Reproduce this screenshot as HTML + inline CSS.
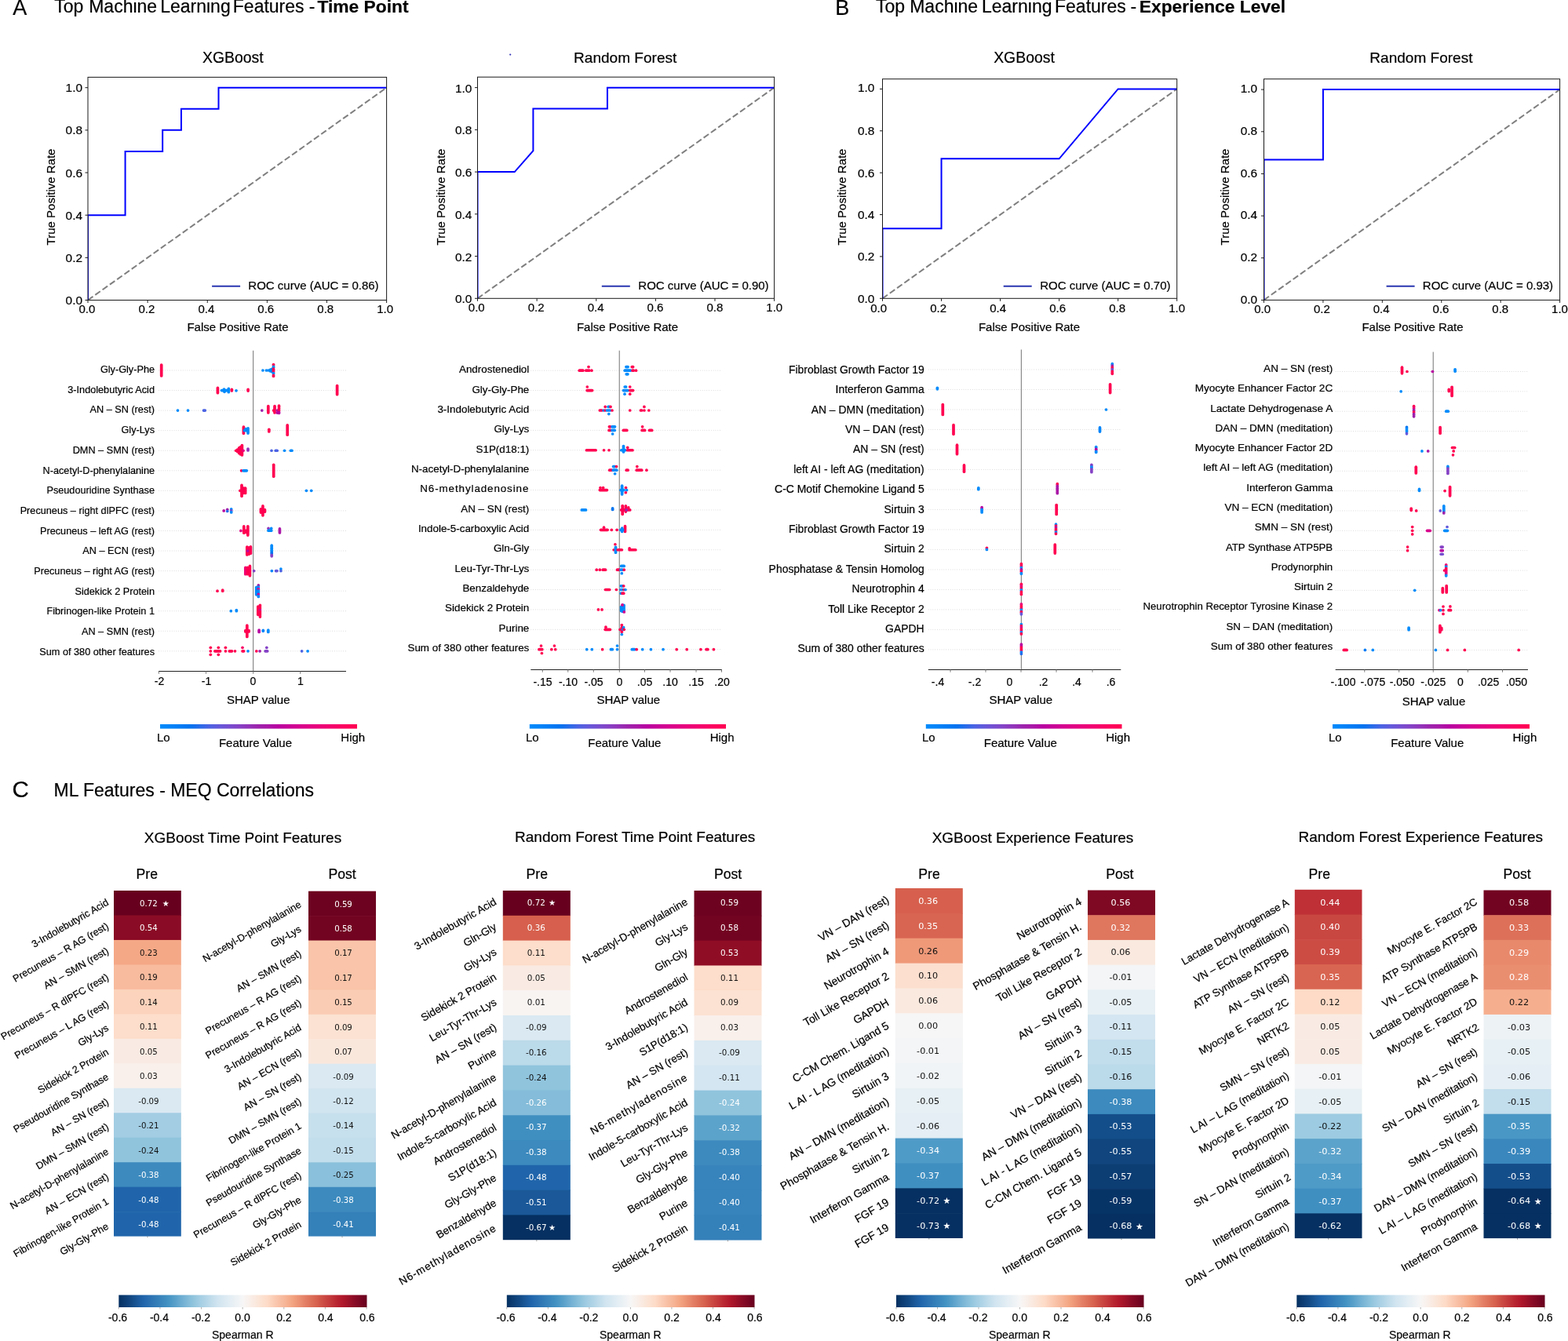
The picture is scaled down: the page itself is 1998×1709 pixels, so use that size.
<!DOCTYPE html>
<html lang="en">
<head>
<meta charset="utf-8">
<title>Top Machine Learning Features</title>
<style>
html,body{margin:0;padding:0;background:#fff;}
body{width:1998px;height:1709px;overflow:hidden;}
svg{display:block;font-family:"Liberation Sans",Arial,Helvetica,sans-serif;fill:#000;}
svg text{white-space:pre;}
svg .dj{font-family:"DejaVu Sans","Liberation Sans",sans-serif;}
</style>
</head>
<body>
<svg width="1998" height="1709" viewBox="0 0 1998 1709">
<text x="16.3" y="19.2" stroke="#000" stroke-width="0.2" font-size="27">A</text>
<text y="16.4" font-size="23" stroke="#000" stroke-width="0.2"><tspan x="69.3">Top</tspan> <tspan x="113.2">Machine</tspan> <tspan x="204.2">Learning</tspan> <tspan x="296.8">Features</tspan> <tspan x="393.8">-</tspan> <tspan x="404.4" font-size="22.8" font-weight="bold">Time Point</tspan></text>
<text x="1064.3" y="19.2" stroke="#000" stroke-width="0.2" font-size="27">B</text>
<text y="16.4" font-size="23" stroke="#000" stroke-width="0.2"><tspan x="1116">Top</tspan> <tspan x="1159.2">Machine</tspan> <tspan x="1251">Learning</tspan> <tspan x="1344">Features</tspan> <tspan x="1440.6">-</tspan> <tspan x="1451.8" font-size="22.8" font-weight="bold">Experience Level</tspan></text>
<text x="15.6" y="1015.6" stroke="#000" stroke-width="0.2" font-size="29.5">C</text>
<text y="1015" font-size="23" stroke="#000" stroke-width="0.2"><tspan x="68.5">ML Features - MEQ Correlations</tspan></text>
<text x="296.8" y="79.6" text-anchor="middle" stroke="#000" stroke-width="0.2" font-size="19.4">XGBoost</text>
<clipPath id="c1"><rect x="112" y="98.4" width="380.6" height="284.1"/></clipPath>
<line x1="112" y1="382.5" x2="492.6" y2="111.7" stroke="#7f7f7f" stroke-width="2" stroke-dasharray="7.95 3.45" clip-path="url(#c1)"/>
<path d="M112 382.5 L112 274.18 L159.57 274.18 L159.57 192.94 L207.15 192.94 L207.15 165.86 L230.94 165.86 L230.94 138.78 L278.51 138.78 L278.51 111.7 L492.6 111.7" fill="none" stroke="#0000ff" stroke-width="2" stroke-linejoin="miter" clip-path="url(#c1)"/>
<rect x="112" y="98.4" width="380.6" height="284.1" fill="none" stroke="#1a1a1a" stroke-width="1"/>
<line x1="112" y1="382.5" x2="112" y2="386" stroke="#1a1a1a" stroke-width="1"/>
<line x1="108.5" y1="382.5" x2="112" y2="382.5" stroke="#1a1a1a" stroke-width="1"/>
<text x="110.9" y="398.9" text-anchor="middle" stroke="#000" stroke-width="0.2" font-size="15">0.0</text>
<text x="105" y="388" text-anchor="end" stroke="#000" stroke-width="0.2" font-size="15.4">0.0</text>
<line x1="188.12" y1="382.5" x2="188.12" y2="386" stroke="#1a1a1a" stroke-width="1"/>
<line x1="108.5" y1="328.34" x2="112" y2="328.34" stroke="#1a1a1a" stroke-width="1"/>
<text x="186.86" y="398.9" text-anchor="middle" stroke="#000" stroke-width="0.2" font-size="15">0.2</text>
<text x="105" y="333.84" text-anchor="end" stroke="#000" stroke-width="0.2" font-size="15.4">0.2</text>
<line x1="264.24" y1="382.5" x2="264.24" y2="386" stroke="#1a1a1a" stroke-width="1"/>
<line x1="108.5" y1="274.18" x2="112" y2="274.18" stroke="#1a1a1a" stroke-width="1"/>
<text x="262.82" y="398.9" text-anchor="middle" stroke="#000" stroke-width="0.2" font-size="15">0.4</text>
<text x="105" y="279.68" text-anchor="end" stroke="#000" stroke-width="0.2" font-size="15.4">0.4</text>
<line x1="340.36" y1="382.5" x2="340.36" y2="386" stroke="#1a1a1a" stroke-width="1"/>
<line x1="108.5" y1="220.02" x2="112" y2="220.02" stroke="#1a1a1a" stroke-width="1"/>
<text x="338.78" y="398.9" text-anchor="middle" stroke="#000" stroke-width="0.2" font-size="15">0.6</text>
<text x="105" y="225.52" text-anchor="end" stroke="#000" stroke-width="0.2" font-size="15.4">0.6</text>
<line x1="416.48" y1="382.5" x2="416.48" y2="386" stroke="#1a1a1a" stroke-width="1"/>
<line x1="108.5" y1="165.86" x2="112" y2="165.86" stroke="#1a1a1a" stroke-width="1"/>
<text x="414.74" y="398.9" text-anchor="middle" stroke="#000" stroke-width="0.2" font-size="15">0.8</text>
<text x="105" y="171.36" text-anchor="end" stroke="#000" stroke-width="0.2" font-size="15.4">0.8</text>
<line x1="492.6" y1="382.5" x2="492.6" y2="386" stroke="#1a1a1a" stroke-width="1"/>
<line x1="108.5" y1="111.7" x2="112" y2="111.7" stroke="#1a1a1a" stroke-width="1"/>
<text x="490.7" y="398.9" text-anchor="middle" stroke="#000" stroke-width="0.2" font-size="15">1.0</text>
<text x="105" y="117.2" text-anchor="end" stroke="#000" stroke-width="0.2" font-size="15.4">1.0</text>
<text x="303" y="421.5" text-anchor="middle" stroke="#000" stroke-width="0.2" font-size="15">False Positive Rate</text>
<text text-anchor="middle" stroke="#000" stroke-width="0.2" transform="translate(69.5 251) rotate(-90)" font-size="15">True Positive Rate</text>
<line x1="270.1" y1="364.8" x2="306.1" y2="364.8" stroke="#2a36b0" stroke-width="2"/>
<text x="316.3" y="369" stroke="#000" stroke-width="0.2" font-size="15">ROC curve (AUC = 0.86)</text>
<text x="796.7" y="79.6" text-anchor="middle" stroke="#000" stroke-width="0.2" font-size="19.05">Random Forest</text>
<clipPath id="c2"><rect x="608.5" y="98.2" width="378.1" height="282.1"/></clipPath>
<line x1="608.5" y1="380.3" x2="986.6" y2="111.63" stroke="#7f7f7f" stroke-width="2" stroke-dasharray="7.95 3.45" clip-path="url(#c2)"/>
<path d="M608.5 380.3 L608.5 219.1 L655.76 219.1 L679.39 192.23 L679.39 138.5 L773.92 138.5 L773.92 111.63 L986.6 111.63" fill="none" stroke="#0000ff" stroke-width="2" stroke-linejoin="miter" clip-path="url(#c2)"/>
<rect x="608.5" y="98.2" width="378.1" height="282.1" fill="none" stroke="#1a1a1a" stroke-width="1"/>
<line x1="608.5" y1="380.3" x2="608.5" y2="383.8" stroke="#1a1a1a" stroke-width="1"/>
<line x1="605" y1="380.3" x2="608.5" y2="380.3" stroke="#1a1a1a" stroke-width="1"/>
<text x="607.3" y="396.9" text-anchor="middle" stroke="#000" stroke-width="0.2" font-size="15">0.0</text>
<text x="601.4" y="386.3" text-anchor="end" stroke="#000" stroke-width="0.2" font-size="15.4">0.0</text>
<line x1="684.12" y1="380.3" x2="684.12" y2="383.8" stroke="#1a1a1a" stroke-width="1"/>
<line x1="605" y1="326.57" x2="608.5" y2="326.57" stroke="#1a1a1a" stroke-width="1"/>
<text x="683.2" y="396.9" text-anchor="middle" stroke="#000" stroke-width="0.2" font-size="15">0.2</text>
<text x="601.4" y="332.57" text-anchor="end" stroke="#000" stroke-width="0.2" font-size="15.4">0.2</text>
<line x1="759.74" y1="380.3" x2="759.74" y2="383.8" stroke="#1a1a1a" stroke-width="1"/>
<line x1="605" y1="272.83" x2="608.5" y2="272.83" stroke="#1a1a1a" stroke-width="1"/>
<text x="759.1" y="396.9" text-anchor="middle" stroke="#000" stroke-width="0.2" font-size="15">0.4</text>
<text x="601.4" y="278.83" text-anchor="end" stroke="#000" stroke-width="0.2" font-size="15.4">0.4</text>
<line x1="835.36" y1="380.3" x2="835.36" y2="383.8" stroke="#1a1a1a" stroke-width="1"/>
<line x1="605" y1="219.1" x2="608.5" y2="219.1" stroke="#1a1a1a" stroke-width="1"/>
<text x="835" y="396.9" text-anchor="middle" stroke="#000" stroke-width="0.2" font-size="15">0.6</text>
<text x="601.4" y="225.1" text-anchor="end" stroke="#000" stroke-width="0.2" font-size="15.4">0.6</text>
<line x1="910.98" y1="380.3" x2="910.98" y2="383.8" stroke="#1a1a1a" stroke-width="1"/>
<line x1="605" y1="165.37" x2="608.5" y2="165.37" stroke="#1a1a1a" stroke-width="1"/>
<text x="910.9" y="396.9" text-anchor="middle" stroke="#000" stroke-width="0.2" font-size="15">0.8</text>
<text x="601.4" y="171.37" text-anchor="end" stroke="#000" stroke-width="0.2" font-size="15.4">0.8</text>
<line x1="986.6" y1="380.3" x2="986.6" y2="383.8" stroke="#1a1a1a" stroke-width="1"/>
<line x1="605" y1="111.63" x2="608.5" y2="111.63" stroke="#1a1a1a" stroke-width="1"/>
<text x="986.8" y="396.9" text-anchor="middle" stroke="#000" stroke-width="0.2" font-size="15">1.0</text>
<text x="601.4" y="117.63" text-anchor="end" stroke="#000" stroke-width="0.2" font-size="15.4">1.0</text>
<text x="799.5" y="421.5" text-anchor="middle" stroke="#000" stroke-width="0.2" font-size="15">False Positive Rate</text>
<text text-anchor="middle" stroke="#000" stroke-width="0.2" transform="translate(566.5 251) rotate(-90)" font-size="15">True Positive Rate</text>
<line x1="766.8" y1="364.8" x2="802.8" y2="364.8" stroke="#2a36b0" stroke-width="2"/>
<text x="813.3" y="369.3" stroke="#000" stroke-width="0.2" font-size="15">ROC curve (AUC = 0.90)</text>
<text x="1305" y="80.4" text-anchor="middle" stroke="#000" stroke-width="0.2" font-size="19.4">XGBoost</text>
<clipPath id="c3"><rect x="1124.5" y="100.7" width="375.2" height="279.6"/></clipPath>
<line x1="1124.5" y1="380.3" x2="1499.7" y2="113.4" stroke="#7f7f7f" stroke-width="2" stroke-dasharray="7.95 3.45" clip-path="url(#c3)"/>
<path d="M1124.5 380.3 L1124.5 291.33 L1199.54 291.33 L1199.54 202.37 L1349.62 202.37 L1424.66 113.4 L1499.7 113.4" fill="none" stroke="#0000ff" stroke-width="2" stroke-linejoin="miter" clip-path="url(#c3)"/>
<rect x="1124.5" y="100.7" width="375.2" height="279.6" fill="none" stroke="#1a1a1a" stroke-width="1"/>
<line x1="1124.5" y1="380.3" x2="1124.5" y2="383.8" stroke="#1a1a1a" stroke-width="1"/>
<line x1="1121" y1="380.3" x2="1124.5" y2="380.3" stroke="#1a1a1a" stroke-width="1"/>
<text x="1119.7" y="398" text-anchor="middle" stroke="#000" stroke-width="0.2" font-size="15">0.0</text>
<text x="1114.3" y="385.7" text-anchor="end" stroke="#000" stroke-width="0.2" font-size="15.4">0.0</text>
<line x1="1199.54" y1="380.3" x2="1199.54" y2="383.8" stroke="#1a1a1a" stroke-width="1"/>
<line x1="1121" y1="326.92" x2="1124.5" y2="326.92" stroke="#1a1a1a" stroke-width="1"/>
<text x="1195.68" y="398" text-anchor="middle" stroke="#000" stroke-width="0.2" font-size="15">0.2</text>
<text x="1114.3" y="332.32" text-anchor="end" stroke="#000" stroke-width="0.2" font-size="15.4">0.2</text>
<line x1="1274.58" y1="380.3" x2="1274.58" y2="383.8" stroke="#1a1a1a" stroke-width="1"/>
<line x1="1121" y1="273.54" x2="1124.5" y2="273.54" stroke="#1a1a1a" stroke-width="1"/>
<text x="1271.66" y="398" text-anchor="middle" stroke="#000" stroke-width="0.2" font-size="15">0.4</text>
<text x="1114.3" y="278.94" text-anchor="end" stroke="#000" stroke-width="0.2" font-size="15.4">0.4</text>
<line x1="1349.62" y1="380.3" x2="1349.62" y2="383.8" stroke="#1a1a1a" stroke-width="1"/>
<line x1="1121" y1="220.16" x2="1124.5" y2="220.16" stroke="#1a1a1a" stroke-width="1"/>
<text x="1347.64" y="398" text-anchor="middle" stroke="#000" stroke-width="0.2" font-size="15">0.6</text>
<text x="1114.3" y="225.56" text-anchor="end" stroke="#000" stroke-width="0.2" font-size="15.4">0.6</text>
<line x1="1424.66" y1="380.3" x2="1424.66" y2="383.8" stroke="#1a1a1a" stroke-width="1"/>
<line x1="1121" y1="166.78" x2="1124.5" y2="166.78" stroke="#1a1a1a" stroke-width="1"/>
<text x="1423.62" y="398" text-anchor="middle" stroke="#000" stroke-width="0.2" font-size="15">0.8</text>
<text x="1114.3" y="172.18" text-anchor="end" stroke="#000" stroke-width="0.2" font-size="15.4">0.8</text>
<line x1="1499.7" y1="380.3" x2="1499.7" y2="383.8" stroke="#1a1a1a" stroke-width="1"/>
<line x1="1121" y1="113.4" x2="1124.5" y2="113.4" stroke="#1a1a1a" stroke-width="1"/>
<text x="1499.6" y="398" text-anchor="middle" stroke="#000" stroke-width="0.2" font-size="15">1.0</text>
<text x="1114.3" y="117.3" text-anchor="end" stroke="#000" stroke-width="0.2" font-size="15.4">1.0</text>
<text x="1311.5" y="421.5" text-anchor="middle" stroke="#000" stroke-width="0.2" font-size="15">False Positive Rate</text>
<text text-anchor="middle" stroke="#000" stroke-width="0.2" transform="translate(1078 251) rotate(-90)" font-size="15">True Positive Rate</text>
<line x1="1278.7" y1="364.8" x2="1314.7" y2="364.8" stroke="#2a36b0" stroke-width="2"/>
<text x="1325.2" y="369.2" stroke="#000" stroke-width="0.2" font-size="15">ROC curve (AUC = 0.70)</text>
<text x="1810.9" y="80.4" text-anchor="middle" stroke="#000" stroke-width="0.2" font-size="19.05">Random Forest</text>
<clipPath id="c4"><rect x="1610.5" y="100.7" width="377.1" height="281.7"/></clipPath>
<line x1="1610.5" y1="382.4" x2="1987.6" y2="114.11" stroke="#7f7f7f" stroke-width="2" stroke-dasharray="7.95 3.45" clip-path="url(#c4)"/>
<path d="M1610.5 382.4 L1610.5 203.54 L1685.92 203.54 L1685.92 114.11 L1987.6 114.11" fill="none" stroke="#0000ff" stroke-width="2" stroke-linejoin="miter" clip-path="url(#c4)"/>
<rect x="1610.5" y="100.7" width="377.1" height="281.7" fill="none" stroke="#1a1a1a" stroke-width="1"/>
<line x1="1610.5" y1="382.4" x2="1610.5" y2="385.9" stroke="#1a1a1a" stroke-width="1"/>
<line x1="1607" y1="382.4" x2="1610.5" y2="382.4" stroke="#1a1a1a" stroke-width="1"/>
<text x="1608.7" y="398.6" text-anchor="middle" stroke="#000" stroke-width="0.2" font-size="15">0.0</text>
<text x="1602.2" y="386.7" text-anchor="end" stroke="#000" stroke-width="0.2" font-size="15.4">0.0</text>
<line x1="1685.92" y1="382.4" x2="1685.92" y2="385.9" stroke="#1a1a1a" stroke-width="1"/>
<line x1="1607" y1="328.74" x2="1610.5" y2="328.74" stroke="#1a1a1a" stroke-width="1"/>
<text x="1684.46" y="398.6" text-anchor="middle" stroke="#000" stroke-width="0.2" font-size="15">0.2</text>
<text x="1602.2" y="333.04" text-anchor="end" stroke="#000" stroke-width="0.2" font-size="15.4">0.2</text>
<line x1="1761.34" y1="382.4" x2="1761.34" y2="385.9" stroke="#1a1a1a" stroke-width="1"/>
<line x1="1607" y1="275.09" x2="1610.5" y2="275.09" stroke="#1a1a1a" stroke-width="1"/>
<text x="1760.22" y="398.6" text-anchor="middle" stroke="#000" stroke-width="0.2" font-size="15">0.4</text>
<text x="1602.2" y="279.39" text-anchor="end" stroke="#000" stroke-width="0.2" font-size="15.4">0.4</text>
<line x1="1836.76" y1="382.4" x2="1836.76" y2="385.9" stroke="#1a1a1a" stroke-width="1"/>
<line x1="1607" y1="221.43" x2="1610.5" y2="221.43" stroke="#1a1a1a" stroke-width="1"/>
<text x="1835.98" y="398.6" text-anchor="middle" stroke="#000" stroke-width="0.2" font-size="15">0.6</text>
<text x="1602.2" y="225.73" text-anchor="end" stroke="#000" stroke-width="0.2" font-size="15.4">0.6</text>
<line x1="1912.18" y1="382.4" x2="1912.18" y2="385.9" stroke="#1a1a1a" stroke-width="1"/>
<line x1="1607" y1="167.77" x2="1610.5" y2="167.77" stroke="#1a1a1a" stroke-width="1"/>
<text x="1911.74" y="398.6" text-anchor="middle" stroke="#000" stroke-width="0.2" font-size="15">0.8</text>
<text x="1602.2" y="172.07" text-anchor="end" stroke="#000" stroke-width="0.2" font-size="15.4">0.8</text>
<line x1="1987.6" y1="382.4" x2="1987.6" y2="385.9" stroke="#1a1a1a" stroke-width="1"/>
<line x1="1607" y1="114.11" x2="1610.5" y2="114.11" stroke="#1a1a1a" stroke-width="1"/>
<text x="1987.5" y="398.6" text-anchor="middle" stroke="#000" stroke-width="0.2" font-size="15">1.0</text>
<text x="1602.2" y="118.41" text-anchor="end" stroke="#000" stroke-width="0.2" font-size="15.4">1.0</text>
<text x="1800" y="421.5" text-anchor="middle" stroke="#000" stroke-width="0.2" font-size="15">False Positive Rate</text>
<text text-anchor="middle" stroke="#000" stroke-width="0.2" transform="translate(1566 251) rotate(-90)" font-size="15">True Positive Rate</text>
<line x1="1766.6" y1="364.8" x2="1802.6" y2="364.8" stroke="#2a36b0" stroke-width="2"/>
<text x="1812.8" y="369.3" stroke="#000" stroke-width="0.2" font-size="15">ROC curve (AUC = 0.93)</text>
<line x1="202" y1="472" x2="441" y2="472" stroke="#d9d9d9" stroke-width="1" stroke-dasharray="0.9 1.9"/>
<text x="197" y="475" text-anchor="end" stroke="#000" stroke-width="0.2" font-size="12.7">Gly-Gly-Phe</text>
<line x1="202" y1="497.56" x2="441" y2="497.56" stroke="#d9d9d9" stroke-width="1" stroke-dasharray="0.9 1.9"/>
<text x="197" y="500.7" text-anchor="end" stroke="#000" stroke-width="0.2" font-size="12.7">3-Indolebutyric Acid</text>
<line x1="202" y1="523.11" x2="441" y2="523.11" stroke="#d9d9d9" stroke-width="1" stroke-dasharray="0.9 1.9"/>
<text x="197" y="526.4" text-anchor="end" stroke="#000" stroke-width="0.2" font-size="12.7">AN – SN (rest)</text>
<line x1="202" y1="548.67" x2="441" y2="548.67" stroke="#d9d9d9" stroke-width="1" stroke-dasharray="0.9 1.9"/>
<text x="197" y="552.1" text-anchor="end" stroke="#000" stroke-width="0.2" font-size="12.7">Gly-Lys</text>
<line x1="202" y1="574.23" x2="441" y2="574.23" stroke="#d9d9d9" stroke-width="1" stroke-dasharray="0.9 1.9"/>
<text x="197" y="577.8" text-anchor="end" stroke="#000" stroke-width="0.2" font-size="12.7">DMN – SMN (rest)</text>
<line x1="202" y1="599.79" x2="441" y2="599.79" stroke="#d9d9d9" stroke-width="1" stroke-dasharray="0.9 1.9"/>
<text x="197" y="603.5" text-anchor="end" stroke="#000" stroke-width="0.2" font-size="12.7">N-acetyl-D-phenylalanine</text>
<line x1="202" y1="625.34" x2="441" y2="625.34" stroke="#d9d9d9" stroke-width="1" stroke-dasharray="0.9 1.9"/>
<text x="197" y="629.2" text-anchor="end" stroke="#000" stroke-width="0.2" font-size="12.7">Pseudouridine Synthase</text>
<line x1="202" y1="650.9" x2="441" y2="650.9" stroke="#d9d9d9" stroke-width="1" stroke-dasharray="0.9 1.9"/>
<text x="197" y="654.9" text-anchor="end" stroke="#000" stroke-width="0.2" font-size="12.7">Precuneus – right dlPFC (rest)</text>
<line x1="202" y1="676.46" x2="441" y2="676.46" stroke="#d9d9d9" stroke-width="1" stroke-dasharray="0.9 1.9"/>
<text x="197" y="680.6" text-anchor="end" stroke="#000" stroke-width="0.2" font-size="12.7">Precuneus – left AG (rest)</text>
<line x1="202" y1="702.01" x2="441" y2="702.01" stroke="#d9d9d9" stroke-width="1" stroke-dasharray="0.9 1.9"/>
<text x="197" y="706.3" text-anchor="end" stroke="#000" stroke-width="0.2" font-size="12.7">AN – ECN (rest)</text>
<line x1="202" y1="727.57" x2="441" y2="727.57" stroke="#d9d9d9" stroke-width="1" stroke-dasharray="0.9 1.9"/>
<text x="197" y="732" text-anchor="end" stroke="#000" stroke-width="0.2" font-size="12.7">Precuneus – right AG (rest)</text>
<line x1="202" y1="753.13" x2="441" y2="753.13" stroke="#d9d9d9" stroke-width="1" stroke-dasharray="0.9 1.9"/>
<text x="197" y="757.7" text-anchor="end" stroke="#000" stroke-width="0.2" font-size="12.7">Sidekick 2 Protein</text>
<line x1="202" y1="778.69" x2="441" y2="778.69" stroke="#d9d9d9" stroke-width="1" stroke-dasharray="0.9 1.9"/>
<text x="197" y="783.4" text-anchor="end" stroke="#000" stroke-width="0.2" font-size="12.7">Fibrinogen-like Protein 1</text>
<line x1="202" y1="804.24" x2="441" y2="804.24" stroke="#d9d9d9" stroke-width="1" stroke-dasharray="0.9 1.9"/>
<text x="197" y="809.1" text-anchor="end" stroke="#000" stroke-width="0.2" font-size="12.7">AN – SMN (rest)</text>
<line x1="202" y1="829.8" x2="441" y2="829.8" stroke="#d9d9d9" stroke-width="1" stroke-dasharray="0.9 1.9"/>
<text x="197" y="834.8" text-anchor="end" stroke="#000" stroke-width="0.2" font-size="12.7">Sum of 380 other features</text>
<line x1="322.6" y1="446.7" x2="322.6" y2="855.5" stroke="#8a8a8a" stroke-width="1.2"/>
<rect x="203.85" y="463.2" width="3.7" height="17.6" rx="1.85" fill="#ff0051"/>
<circle cx="334.9" cy="472" r="1.85" fill="#008bfb"/>
<circle cx="339.4" cy="472" r="1.85" fill="#008bfb"/>
<circle cx="342" cy="472" r="1.85" fill="#008bfb"/>
<rect x="342.75" y="469.2" width="3.7" height="5.6" rx="1.85" fill="#008bfb"/>
<rect x="344.75" y="468.4" width="3.7" height="7.2" rx="1.85" fill="#008bfb"/>
<rect x="346.65" y="462.64" width="3.7" height="4.82" rx="1.85" fill="#ff0051"/>
<rect x="346.65" y="465.42" width="3.7" height="4.82" rx="1.85" fill="#008bfb"/>
<rect x="346.65" y="468.2" width="3.7" height="4.82" rx="1.85" fill="#ff0051"/>
<rect x="346.65" y="470.98" width="3.7" height="4.82" rx="1.85" fill="#ff0051"/>
<rect x="346.65" y="473.76" width="3.7" height="4.82" rx="1.85" fill="#008bfb"/>
<rect x="346.65" y="476.54" width="3.7" height="4.82" rx="1.85" fill="#ff0051"/>
<rect x="275.55" y="492.56" width="3.7" height="10" rx="1.85" fill="#ff0051"/>
<rect x="280.65" y="495.71" width="10.7" height="3.7" rx="1.85" fill="#008bfb"/>
<circle cx="285.5" cy="496.06" r="1.85" fill="#008bfb"/>
<circle cx="286" cy="499.36" r="1.85" fill="#008bfb"/>
<rect x="289.45" y="493.56" width="3.7" height="8" rx="1.85" fill="#008bfb"/>
<rect x="293.45" y="494.46" width="3.7" height="5.4" rx="1.85" fill="#ff0051"/>
<circle cx="301" cy="497.86" r="1.85" fill="#008bfb"/>
<rect x="314.25" y="494.56" width="3.7" height="5.4" rx="1.85" fill="#ff0051"/>
<rect x="427.75" y="489.76" width="3.7" height="14.8" rx="1.85" fill="#ff0051"/>
<circle cx="226.5" cy="523.11" r="1.85" fill="#008bfb"/>
<circle cx="239.5" cy="523.11" r="1.85" fill="#008bfb"/>
<rect x="257.65" y="521.26" width="5.5" height="3.7" rx="1.85" fill="#4c63e3"/>
<circle cx="333.8" cy="523.11" r="1.85" fill="#9d22ac"/>
<rect x="339.95" y="515.81" width="3.7" height="12" rx="1.85" fill="#ff0051"/>
<circle cx="348.6" cy="523.11" r="1.85" fill="#ff0051"/>
<rect x="348.15" y="515.81" width="3.7" height="12" rx="1.85" fill="#ff0051"/>
<circle cx="353.3" cy="523.11" r="1.85" fill="#aa17a7"/>
<circle cx="353.3" cy="526.11" r="1.85" fill="#b900a0"/>
<rect x="353.65" y="515.26" width="3.7" height="4.8" rx="1.85" fill="#ff0051"/>
<rect x="353.65" y="518.03" width="3.7" height="4.8" rx="1.85" fill="#ff0051"/>
<rect x="353.65" y="520.8" width="3.7" height="4.8" rx="1.85" fill="#ff0051"/>
<rect x="353.65" y="523.56" width="3.7" height="4.8" rx="1.85" fill="#b900a0"/>
<rect x="308.55" y="542.17" width="3.7" height="12" rx="1.85" fill="#ff0051"/>
<rect x="314.15" y="543.97" width="3.7" height="10" rx="1.85" fill="#008bfb"/>
<rect x="309.65" y="546.82" width="7.2" height="3.7" rx="1.85" fill="#008bfb"/>
<circle cx="313.2" cy="546.67" r="1.85" fill="#008bfb"/>
<rect x="340.95" y="545.47" width="3.7" height="6.4" rx="1.85" fill="#ff0051"/>
<rect x="364.35" y="540.07" width="3.7" height="16" rx="1.85" fill="#ff0051"/>
<circle cx="300.6" cy="574.23" r="1.85" fill="#ff0051"/>
<rect x="300.75" y="571.23" width="3.7" height="6" rx="1.85" fill="#ff0051"/>
<rect x="302.75" y="569.03" width="3.7" height="10.4" rx="1.85" fill="#ff0051"/>
<rect x="304.75" y="567.73" width="3.7" height="13" rx="1.85" fill="#ff0051"/>
<rect x="306.55" y="565.73" width="3.7" height="16" rx="1.85" fill="#ff0051"/>
<circle cx="310" cy="574.23" r="1.85" fill="#e9007c"/>
<rect x="314.15" y="570.23" width="3.7" height="5.6" rx="1.85" fill="#9233b9"/>
<circle cx="346" cy="574.23" r="1.85" fill="#4c63e3"/>
<rect x="349.35" y="572.38" width="5.7" height="3.7" rx="1.85" fill="#4c63e3"/>
<circle cx="362.5" cy="574.23" r="1.85" fill="#008bfb"/>
<rect x="368.55" y="572.38" width="5.3" height="3.7" rx="1.85" fill="#008bfb"/>
<circle cx="307.6" cy="599.79" r="1.85" fill="#ff0051"/>
<rect x="308.15" y="597.94" width="8" height="3.7" rx="1.85" fill="#008bfb"/>
<rect x="346.85" y="590.49" width="3.7" height="18.6" rx="1.85" fill="#ff0051"/>
<circle cx="305.9" cy="625.34" r="1.85" fill="#ff0051"/>
<rect x="306.15" y="616.54" width="3.7" height="17.6" rx="1.85" fill="#ff0051"/>
<rect x="308.55" y="620.34" width="3.7" height="10" rx="1.85" fill="#ff0051"/>
<rect x="310.75" y="620.34" width="3.7" height="10" rx="1.85" fill="#ff0051"/>
<circle cx="390.4" cy="625.34" r="1.85" fill="#008bfb"/>
<circle cx="396.7" cy="625.34" r="1.85" fill="#008bfb"/>
<circle cx="285.2" cy="650.9" r="1.85" fill="#b900a0"/>
<circle cx="289.7" cy="649.3" r="1.85" fill="#9d22ac"/>
<circle cx="289.7" cy="651.5" r="1.85" fill="#266cea"/>
<rect x="292.85" y="646.96" width="3.7" height="3.98" rx="1.85" fill="#008bfb"/>
<rect x="292.85" y="648.91" width="3.7" height="3.98" rx="1.85" fill="#8542c5"/>
<rect x="292.85" y="650.86" width="3.7" height="3.98" rx="1.85" fill="#008bfb"/>
<rect x="330.55" y="646.9" width="3.7" height="8" rx="1.85" fill="#ff0051"/>
<rect x="333.05" y="643.1" width="3.7" height="15.6" rx="1.85" fill="#ff0051"/>
<rect x="335.55" y="647.7" width="3.7" height="6.4" rx="1.85" fill="#ff0051"/>
<circle cx="306.9" cy="676.46" r="1.85" fill="#df0086"/>
<rect x="308.95" y="669.06" width="3.7" height="12" rx="1.85" fill="#ff0051"/>
<rect x="309.15" y="674.61" width="8.2" height="3.7" rx="1.85" fill="#ff0051"/>
<circle cx="313.3" cy="678.46" r="1.85" fill="#ff0051"/>
<rect x="313.95" y="668.96" width="3.7" height="15" rx="1.85" fill="#ff0051"/>
<circle cx="342" cy="673.46" r="1.85" fill="#9233b9"/>
<circle cx="345.7" cy="673.46" r="1.85" fill="#008bfb"/>
<rect x="340.15" y="674.31" width="7.4" height="3.7" rx="1.85" fill="#008bfb"/>
<rect x="354.55" y="672.06" width="3.7" height="8.8" rx="1.85" fill="#aa17a7"/>
<rect x="312.95" y="695.21" width="3.7" height="13.6" rx="1.85" fill="#ff0051"/>
<rect x="315.35" y="696.01" width="3.7" height="12" rx="1.85" fill="#ff0051"/>
<rect x="317.55" y="695.01" width="3.7" height="12" rx="1.85" fill="#ff0051"/>
<circle cx="315.5" cy="702.01" r="1.85" fill="#b900a0"/>
<rect x="344.35" y="693.31" width="3.7" height="5.11" rx="1.85" fill="#008bfb"/>
<rect x="344.35" y="696.38" width="3.7" height="5.11" rx="1.85" fill="#008bfb"/>
<rect x="344.35" y="699.46" width="3.7" height="5.11" rx="1.85" fill="#008bfb"/>
<rect x="344.35" y="702.53" width="3.7" height="5.11" rx="1.85" fill="#0074f0"/>
<rect x="344.35" y="705.61" width="3.7" height="5.11" rx="1.85" fill="#8542c5"/>
<rect x="310.95" y="721.57" width="3.7" height="12" rx="1.85" fill="#f10072"/>
<rect x="313.55" y="721.57" width="3.7" height="12" rx="1.85" fill="#ff0051"/>
<rect x="316.55" y="719.57" width="3.7" height="16" rx="1.85" fill="#ff0051"/>
<circle cx="323.6" cy="727.57" r="1.85" fill="#8542c5"/>
<circle cx="346.3" cy="727.57" r="1.85" fill="#0084f9"/>
<rect x="349.75" y="725.72" width="5.1" height="3.7" rx="1.85" fill="#6459da"/>
<circle cx="357.9" cy="725.07" r="1.85" fill="#008bfb"/>
<circle cx="357.9" cy="727.57" r="1.85" fill="#4c63e3"/>
<circle cx="277" cy="753.13" r="1.85" fill="#ff0051"/>
<rect x="281.85" y="750.23" width="3.7" height="4.8" rx="1.85" fill="#ff0051"/>
<rect x="324.85" y="746.63" width="3.7" height="13" rx="1.85" fill="#008bfb"/>
<rect x="327.45" y="744" width="3.7" height="4.35" rx="1.85" fill="#9d22ac"/>
<rect x="327.45" y="746.32" width="3.7" height="4.35" rx="1.85" fill="#008bfb"/>
<rect x="327.45" y="748.64" width="3.7" height="4.35" rx="1.85" fill="#d40090"/>
<rect x="327.45" y="750.95" width="3.7" height="4.35" rx="1.85" fill="#008bfb"/>
<rect x="327.45" y="753.27" width="3.7" height="4.35" rx="1.85" fill="#008bfb"/>
<rect x="327.45" y="755.59" width="3.7" height="4.35" rx="1.85" fill="#d40090"/>
<rect x="327.45" y="757.9" width="3.7" height="4.35" rx="1.85" fill="#008bfb"/>
<circle cx="294.3" cy="778.69" r="1.85" fill="#008bfb"/>
<rect x="299.45" y="775.69" width="3.7" height="4.8" rx="1.85" fill="#008bfb"/>
<rect x="326.95" y="771.19" width="3.7" height="14" rx="1.85" fill="#ff0051"/>
<rect x="329.55" y="769.5" width="3.7" height="4.08" rx="1.85" fill="#ff0051"/>
<rect x="329.55" y="771.54" width="3.7" height="4.08" rx="1.85" fill="#ff0051"/>
<rect x="329.55" y="773.58" width="3.7" height="4.08" rx="1.85" fill="#ff0051"/>
<rect x="329.55" y="775.63" width="3.7" height="4.08" rx="1.85" fill="#d40090"/>
<rect x="329.55" y="777.67" width="3.7" height="4.08" rx="1.85" fill="#ff0051"/>
<rect x="329.55" y="779.71" width="3.7" height="4.08" rx="1.85" fill="#ff0051"/>
<rect x="329.55" y="781.75" width="3.7" height="4.08" rx="1.85" fill="#ff0051"/>
<rect x="329.55" y="783.8" width="3.7" height="4.08" rx="1.85" fill="#ff0051"/>
<rect x="312.95" y="795.24" width="3.7" height="18" rx="1.85" fill="#ff0051"/>
<rect x="310.95" y="801.64" width="3.7" height="5.2" rx="1.85" fill="#ff0051"/>
<rect x="315.25" y="801.64" width="3.7" height="5.2" rx="1.85" fill="#ff0051"/>
<rect x="328.25" y="801.24" width="3.7" height="6" rx="1.85" fill="#b900a0"/>
<rect x="333.45" y="801.44" width="3.7" height="4.6" rx="1.85" fill="#0084f9"/>
<rect x="339.95" y="801.24" width="3.7" height="6" rx="1.85" fill="#008bfb"/>
<circle cx="268.3" cy="825.3" r="1.85" fill="#ff0051"/>
<circle cx="268.3" cy="829.8" r="1.85" fill="#ff0051"/>
<circle cx="268.3" cy="834.3" r="1.85" fill="#ff0051"/>
<rect x="271.95" y="827.95" width="10.5" height="3.7" rx="1.85" fill="#ff0051"/>
<circle cx="278.3" cy="825.3" r="1.85" fill="#ff0051"/>
<circle cx="278.3" cy="834.3" r="1.85" fill="#ff0051"/>
<circle cx="287.4" cy="825.3" r="1.85" fill="#ff0051"/>
<circle cx="287.4" cy="829.8" r="1.85" fill="#ff0051"/>
<rect x="290.45" y="827.95" width="6.9" height="3.7" rx="1.85" fill="#ff0051"/>
<circle cx="299.5" cy="829.8" r="1.85" fill="#ff0051"/>
<circle cx="309" cy="825.3" r="1.85" fill="#f80067"/>
<rect x="307.15" y="827.95" width="5.3" height="3.7" rx="1.85" fill="#ff0051"/>
<circle cx="316" cy="829.8" r="1.85" fill="#008bfb"/>
<circle cx="326.8" cy="829.8" r="1.85" fill="#ff0051"/>
<circle cx="331.1" cy="829.8" r="1.85" fill="#9d22ac"/>
<circle cx="339.8" cy="825.3" r="1.85" fill="#8542c5"/>
<rect x="336.25" y="827.95" width="6.3" height="3.7" rx="1.85" fill="#8542c5"/>
<circle cx="384.6" cy="829.8" r="1.85" fill="#4c63e3"/>
<circle cx="392.1" cy="829.8" r="1.85" fill="#008bfb"/>
<line x1="202" y1="855.5" x2="441" y2="855.5" stroke="#222" stroke-width="1"/>
<line x1="202.4" y1="855.5" x2="202.4" y2="858.7" stroke="#777" stroke-width="1"/>
<line x1="262.5" y1="855.5" x2="262.5" y2="858.7" stroke="#777" stroke-width="1"/>
<line x1="322.6" y1="855.5" x2="322.6" y2="858.7" stroke="#777" stroke-width="1"/>
<line x1="382.6" y1="855.5" x2="382.6" y2="858.7" stroke="#777" stroke-width="1"/>
<text x="203" y="872.7" text-anchor="middle" stroke="#000" stroke-width="0.2" font-size="14">-2</text>
<text x="263" y="872.7" text-anchor="middle" stroke="#000" stroke-width="0.2" font-size="14">-1</text>
<text x="322.5" y="872.7" text-anchor="middle" stroke="#000" stroke-width="0.2" font-size="14">0</text>
<text x="383" y="872.7" text-anchor="middle" stroke="#000" stroke-width="0.2" font-size="14">1</text>
<text x="329.2" y="897" text-anchor="middle" stroke="#000" stroke-width="0.2" font-size="15">SHAP value</text>
<linearGradient id="gA1" x1="0" x2="1" y1="0" y2="0"><stop offset="0%" stop-color="#008bfb"/><stop offset="5%" stop-color="#0084f9"/><stop offset="10%" stop-color="#007cf5"/><stop offset="15%" stop-color="#0074f0"/><stop offset="20%" stop-color="#266cea"/><stop offset="25%" stop-color="#4c63e3"/><stop offset="30%" stop-color="#6459da"/><stop offset="35%" stop-color="#764ed0"/><stop offset="40%" stop-color="#8542c5"/><stop offset="45%" stop-color="#9233b9"/><stop offset="50%" stop-color="#9d22ac"/><stop offset="55%" stop-color="#aa17a7"/><stop offset="60%" stop-color="#b900a0"/><stop offset="65%" stop-color="#c70098"/><stop offset="70%" stop-color="#d40090"/><stop offset="75%" stop-color="#df0086"/><stop offset="80%" stop-color="#e9007c"/><stop offset="85%" stop-color="#f10072"/><stop offset="90%" stop-color="#f80067"/><stop offset="95%" stop-color="#fe005c"/><stop offset="100%" stop-color="#ff0051"/></linearGradient>
<rect x="204" y="923" width="251" height="5.6" fill="url(#gA1)"/>
<text x="199.9" y="945" stroke="#000" stroke-width="0.2" font-size="15">Lo</text>
<text x="465.2" y="945" text-anchor="end" stroke="#000" stroke-width="0.2" font-size="15">High</text>
<text x="325.5" y="952" text-anchor="middle" stroke="#000" stroke-width="0.2" font-size="15">Feature Value</text>
<line x1="676.3" y1="472.2" x2="920" y2="472.2" stroke="#d9d9d9" stroke-width="1" stroke-dasharray="0.9 1.9"/>
<text x="674.3" y="475.2" text-anchor="end" stroke="#000" stroke-width="0.2" font-size="13.4">Androstenediol</text>
<line x1="676.3" y1="497.59" x2="920" y2="497.59" stroke="#d9d9d9" stroke-width="1" stroke-dasharray="0.9 1.9"/>
<text x="674.3" y="500.54" text-anchor="end" stroke="#000" stroke-width="0.2" font-size="13.4">Gly-Gly-Phe</text>
<line x1="676.3" y1="522.99" x2="920" y2="522.99" stroke="#d9d9d9" stroke-width="1" stroke-dasharray="0.9 1.9"/>
<text x="674.3" y="525.87" text-anchor="end" stroke="#000" stroke-width="0.2" font-size="13.4">3-Indolebutyric Acid</text>
<line x1="676.3" y1="548.38" x2="920" y2="548.38" stroke="#d9d9d9" stroke-width="1" stroke-dasharray="0.9 1.9"/>
<text x="674.3" y="551.21" text-anchor="end" stroke="#000" stroke-width="0.2" font-size="13.4">Gly-Lys</text>
<line x1="676.3" y1="573.77" x2="920" y2="573.77" stroke="#d9d9d9" stroke-width="1" stroke-dasharray="0.9 1.9"/>
<text x="674.3" y="576.54" text-anchor="end" stroke="#000" stroke-width="0.2" font-size="13.4">S1P(d18:1)</text>
<line x1="676.3" y1="599.16" x2="920" y2="599.16" stroke="#d9d9d9" stroke-width="1" stroke-dasharray="0.9 1.9"/>
<text x="674.3" y="601.88" text-anchor="end" stroke="#000" stroke-width="0.2" font-size="13.4">N-acetyl-D-phenylalanine</text>
<line x1="676.3" y1="624.56" x2="920" y2="624.56" stroke="#d9d9d9" stroke-width="1" stroke-dasharray="0.9 1.9"/>
<text x="674.3" y="627.21" text-anchor="end" stroke="#000" stroke-width="0.2" font-size="13.4" letter-spacing="0.9">N6-methyladenosine</text>
<line x1="676.3" y1="649.95" x2="920" y2="649.95" stroke="#d9d9d9" stroke-width="1" stroke-dasharray="0.9 1.9"/>
<text x="674.3" y="652.55" text-anchor="end" stroke="#000" stroke-width="0.2" font-size="13.4">AN – SN (rest)</text>
<line x1="676.3" y1="675.34" x2="920" y2="675.34" stroke="#d9d9d9" stroke-width="1" stroke-dasharray="0.9 1.9"/>
<text x="674.3" y="677.89" text-anchor="end" stroke="#000" stroke-width="0.2" font-size="13.4">Indole-5-carboxylic Acid</text>
<line x1="676.3" y1="700.74" x2="920" y2="700.74" stroke="#d9d9d9" stroke-width="1" stroke-dasharray="0.9 1.9"/>
<text x="674.3" y="703.22" text-anchor="end" stroke="#000" stroke-width="0.2" font-size="13.4">Gln-Gly</text>
<line x1="676.3" y1="726.13" x2="920" y2="726.13" stroke="#d9d9d9" stroke-width="1" stroke-dasharray="0.9 1.9"/>
<text x="674.3" y="728.56" text-anchor="end" stroke="#000" stroke-width="0.2" font-size="13.4">Leu-Tyr-Thr-Lys</text>
<line x1="676.3" y1="751.52" x2="920" y2="751.52" stroke="#d9d9d9" stroke-width="1" stroke-dasharray="0.9 1.9"/>
<text x="674.3" y="753.89" text-anchor="end" stroke="#000" stroke-width="0.2" font-size="13.4">Benzaldehyde</text>
<line x1="676.3" y1="776.91" x2="920" y2="776.91" stroke="#d9d9d9" stroke-width="1" stroke-dasharray="0.9 1.9"/>
<text x="674.3" y="779.23" text-anchor="end" stroke="#000" stroke-width="0.2" font-size="13.4">Sidekick 2 Protein</text>
<line x1="676.3" y1="802.31" x2="920" y2="802.31" stroke="#d9d9d9" stroke-width="1" stroke-dasharray="0.9 1.9"/>
<text x="674.3" y="804.56" text-anchor="end" stroke="#000" stroke-width="0.2" font-size="13.4">Purine</text>
<line x1="676.3" y1="827.7" x2="920" y2="827.7" stroke="#d9d9d9" stroke-width="1" stroke-dasharray="0.9 1.9"/>
<text x="674.3" y="829.9" text-anchor="end" stroke="#000" stroke-width="0.2" font-size="13.4">Sum of 380 other features</text>
<line x1="789.25" y1="446.7" x2="789.25" y2="853.5" stroke="#8a8a8a" stroke-width="1.2"/>
<rect x="736.45" y="470.35" width="8.3" height="3.7" rx="1.85" fill="#ff0051"/>
<circle cx="746.8" cy="472.2" r="1.85" fill="#ff0051"/>
<circle cx="748.7" cy="472.2" r="1.85" fill="#ff0051"/>
<circle cx="750.7" cy="472.2" r="1.85" fill="#ff0051"/>
<circle cx="753.9" cy="472.2" r="1.85" fill="#ff0051"/>
<circle cx="750" cy="467.6" r="1.85" fill="#ff0051"/>
<rect x="794.35" y="470.35" width="10.9" height="3.7" rx="1.85" fill="#008bfb"/>
<rect x="804.15" y="470.35" width="5" height="3.7" rx="1.85" fill="#ff0051"/>
<circle cx="810.5" cy="472.2" r="1.85" fill="#ff0051"/>
<rect x="796.05" y="465.75" width="5.9" height="3.7" rx="1.85" fill="#008bfb"/>
<rect x="803.45" y="465.75" width="5" height="3.7" rx="1.85" fill="#ff0051"/>
<rect x="796.35" y="474.95" width="5.4" height="3.7" rx="1.85" fill="#008bfb"/>
<circle cx="748.3" cy="492.99" r="1.85" fill="#ff0051"/>
<rect x="746.25" y="495.74" width="10.2" height="3.7" rx="1.85" fill="#ff0051"/>
<rect x="792.65" y="495.74" width="9.3" height="3.7" rx="1.85" fill="#008bfb"/>
<rect x="800.85" y="495.74" width="7.6" height="3.7" rx="1.85" fill="#ff0051"/>
<rect x="794.35" y="491.14" width="5.1" height="3.7" rx="1.85" fill="#008bfb"/>
<circle cx="802.7" cy="492.99" r="1.85" fill="#ff0051"/>
<circle cx="796" cy="502.19" r="1.85" fill="#008bfb"/>
<circle cx="802.7" cy="502.19" r="1.85" fill="#ff0051"/>
<rect x="762.45" y="521.14" width="6.3" height="3.7" rx="1.85" fill="#ff0051"/>
<circle cx="769.2" cy="522.99" r="1.85" fill="#008bfb"/>
<circle cx="771.2" cy="522.99" r="1.85" fill="#ff0051"/>
<rect x="771.55" y="521.14" width="7.7" height="3.7" rx="1.85" fill="#008bfb"/>
<circle cx="780" cy="522.99" r="1.85" fill="#ff0051"/>
<circle cx="771.2" cy="518.39" r="1.85" fill="#ff0051"/>
<rect x="773.25" y="516.54" width="5" height="3.7" rx="1.85" fill="#008bfb"/>
<circle cx="778" cy="518.39" r="1.85" fill="#ff0051"/>
<circle cx="775.8" cy="527.59" r="1.85" fill="#008bfb"/>
<circle cx="802.7" cy="522.99" r="1.85" fill="#ff0051"/>
<rect x="814.55" y="521.14" width="5" height="3.7" rx="1.85" fill="#ff0051"/>
<circle cx="820.9" cy="522.99" r="1.85" fill="#ff0051"/>
<circle cx="826.8" cy="522.99" r="1.85" fill="#ff0051"/>
<circle cx="820.9" cy="518.39" r="1.85" fill="#ff0051"/>
<rect x="774.15" y="546.53" width="5.7" height="3.7" rx="1.85" fill="#ff0051"/>
<rect x="778.05" y="546.53" width="7" height="3.7" rx="1.85" fill="#008bfb"/>
<rect x="774.55" y="541.93" width="5" height="3.7" rx="1.85" fill="#ff0051"/>
<rect x="778.15" y="541.93" width="7.2" height="3.7" rx="1.85" fill="#008bfb"/>
<circle cx="780.6" cy="552.98" r="1.85" fill="#008bfb"/>
<rect x="792.45" y="546.53" width="8.2" height="3.7" rx="1.85" fill="#ff0051"/>
<rect x="816.25" y="546.53" width="7.2" height="3.7" rx="1.85" fill="#ff0051"/>
<rect x="825.65" y="546.53" width="6.9" height="3.7" rx="1.85" fill="#ff0051"/>
<circle cx="818.6" cy="543.78" r="1.85" fill="#ff0051"/>
<rect x="745.55" y="571.92" width="15.4" height="3.7" rx="1.85" fill="#ff0051"/>
<circle cx="769.5" cy="573.77" r="1.85" fill="#ff0051"/>
<circle cx="776" cy="573.77" r="1.85" fill="#ff0051"/>
<rect x="792.65" y="566.77" width="3.7" height="11" rx="1.85" fill="#008bfb"/>
<rect x="789.85" y="571.92" width="8.9" height="3.7" rx="1.85" fill="#008bfb"/>
<circle cx="799.7" cy="570.37" r="1.85" fill="#ff0051"/>
<rect x="797.65" y="571.92" width="10.2" height="3.7" rx="1.85" fill="#ff0051"/>
<rect x="774.85" y="597.31" width="6.3" height="3.7" rx="1.85" fill="#ff0051"/>
<rect x="779.45" y="597.31" width="8.2" height="3.7" rx="1.85" fill="#008bfb"/>
<rect x="779.75" y="592.71" width="5.6" height="3.7" rx="1.85" fill="#008bfb"/>
<circle cx="785.5" cy="594.56" r="1.85" fill="#ff0051"/>
<circle cx="783.6" cy="603.76" r="1.85" fill="#008bfb"/>
<rect x="796.35" y="597.31" width="5.6" height="3.7" rx="1.85" fill="#ff0051"/>
<rect x="809.35" y="597.31" width="10.2" height="3.7" rx="1.85" fill="#ff0051"/>
<circle cx="823.9" cy="599.16" r="1.85" fill="#ff0051"/>
<circle cx="811.8" cy="594.56" r="1.85" fill="#ff0051"/>
<rect x="762.45" y="622.71" width="12.8" height="3.7" rx="1.85" fill="#ff0051"/>
<circle cx="765" cy="621.56" r="1.85" fill="#ff0051"/>
<circle cx="768.6" cy="621.56" r="1.85" fill="#ff0051"/>
<rect x="790.75" y="617.36" width="3.7" height="14.4" rx="1.85" fill="#008bfb"/>
<rect x="789.15" y="622.71" width="7.7" height="3.7" rx="1.85" fill="#008bfb"/>
<circle cx="797.5" cy="621.56" r="1.85" fill="#ff0051"/>
<circle cx="798.6" cy="624.56" r="1.85" fill="#008bfb"/>
<circle cx="797.3" cy="627.76" r="1.85" fill="#ff0051"/>
<rect x="739.45" y="648.1" width="8.9" height="3.7" rx="1.85" fill="#008bfb"/>
<rect x="778.75" y="645.95" width="3.7" height="5.4" rx="1.85" fill="#0074f0"/>
<rect x="791.35" y="642.75" width="3.7" height="14.4" rx="1.85" fill="#ff0051"/>
<rect x="795.45" y="642.95" width="3.7" height="11" rx="1.85" fill="#ff0051"/>
<rect x="789.85" y="648.1" width="14.7" height="3.7" rx="1.85" fill="#ff0051"/>
<circle cx="800.8" cy="646.95" r="1.85" fill="#ff0051"/>
<circle cx="798.2" cy="649.95" r="1.85" fill="#9d22ac"/>
<rect x="763.75" y="673.49" width="12.2" height="3.7" rx="1.85" fill="#ff0051"/>
<circle cx="769.5" cy="672.14" r="1.85" fill="#ff0051"/>
<circle cx="779.3" cy="675.34" r="1.85" fill="#ff0051"/>
<circle cx="786.1" cy="675.34" r="1.85" fill="#ff0051"/>
<rect x="794.65" y="668.84" width="3.7" height="10.4" rx="1.85" fill="#ff0051"/>
<rect x="790.85" y="671.34" width="3.7" height="8" rx="1.85" fill="#008bfb"/>
<rect x="788.95" y="673.49" width="6.5" height="3.7" rx="1.85" fill="#008bfb"/>
<circle cx="783.9" cy="693.74" r="1.85" fill="#ff0051"/>
<circle cx="782.2" cy="700.74" r="1.85" fill="#ff0051"/>
<rect x="782.65" y="695.44" width="3.7" height="10.6" rx="1.85" fill="#008bfb"/>
<rect x="785.25" y="698.89" width="8.9" height="3.7" rx="1.85" fill="#ff0051"/>
<rect x="800.25" y="698.89" width="11.5" height="3.7" rx="1.85" fill="#ff0051"/>
<circle cx="802.1" cy="698.74" r="1.85" fill="#ff0051"/>
<circle cx="760.2" cy="726.13" r="1.85" fill="#ff0051"/>
<circle cx="764.3" cy="726.13" r="1.85" fill="#ff0051"/>
<rect x="766.35" y="724.28" width="7" height="3.7" rx="1.85" fill="#ff0051"/>
<rect x="784.65" y="724.28" width="6.3" height="3.7" rx="1.85" fill="#ff0051"/>
<rect x="789.15" y="724.28" width="5.7" height="3.7" rx="1.85" fill="#008bfb"/>
<circle cx="795.2" cy="726.13" r="1.85" fill="#ff0051"/>
<rect x="789.85" y="719.58" width="7.2" height="3.7" rx="1.85" fill="#008bfb"/>
<circle cx="792.3" cy="730.63" r="1.85" fill="#008bfb"/>
<rect x="769.65" y="749.67" width="8.9" height="3.7" rx="1.85" fill="#ff0051"/>
<circle cx="785.4" cy="751.52" r="1.85" fill="#ff0051"/>
<rect x="789.15" y="749.67" width="6.3" height="3.7" rx="1.85" fill="#008bfb"/>
<circle cx="795" cy="751.52" r="1.85" fill="#ff0051"/>
<circle cx="796.9" cy="751.52" r="1.85" fill="#008bfb"/>
<rect x="789.35" y="744.97" width="5.9" height="3.7" rx="1.85" fill="#008bfb"/>
<circle cx="794.7" cy="746.82" r="1.85" fill="#ff0051"/>
<circle cx="791.3" cy="756.22" r="1.85" fill="#008bfb"/>
<rect x="791.15" y="754.37" width="5.4" height="3.7" rx="1.85" fill="#ff0051"/>
<circle cx="762.4" cy="776.91" r="1.85" fill="#ff0051"/>
<circle cx="767" cy="776.91" r="1.85" fill="#ff0051"/>
<rect x="789.75" y="771.41" width="3.7" height="9" rx="1.85" fill="#008bfb"/>
<rect x="791.45" y="769.21" width="3.7" height="12" rx="1.85" fill="#008bfb"/>
<rect x="793.15" y="769.51" width="3.7" height="11" rx="1.85" fill="#008bfb"/>
<circle cx="793" cy="770.91" r="1.85" fill="#df0086"/>
<circle cx="795.3" cy="779.91" r="1.85" fill="#d40090"/>
<rect x="769.35" y="800.46" width="9.9" height="3.7" rx="1.85" fill="#ff0051"/>
<circle cx="771.9" cy="799.21" r="1.85" fill="#ff0051"/>
<circle cx="792.3" cy="796.61" r="1.85" fill="#ff0051"/>
<circle cx="792.3" cy="799.51" r="1.85" fill="#ff0051"/>
<circle cx="794.6" cy="799.51" r="1.85" fill="#008bfb"/>
<rect x="788.15" y="800.46" width="6.7" height="3.7" rx="1.85" fill="#ff0051"/>
<circle cx="793.6" cy="802.31" r="1.85" fill="#008bfb"/>
<circle cx="795.2" cy="802.31" r="1.85" fill="#ff0051"/>
<circle cx="792.3" cy="805.31" r="1.85" fill="#ff0051"/>
<circle cx="792.3" cy="808.51" r="1.85" fill="#008bfb"/>
<circle cx="689.5" cy="823" r="1.85" fill="#ff0051"/>
<rect x="685.05" y="825.85" width="7.6" height="3.7" rx="1.85" fill="#ff0051"/>
<circle cx="690.4" cy="832.5" r="1.85" fill="#ff0051"/>
<circle cx="706.4" cy="823" r="1.85" fill="#ff0051"/>
<circle cx="702.8" cy="827.7" r="1.85" fill="#ff0051"/>
<circle cx="707.7" cy="827.7" r="1.85" fill="#ff0051"/>
<circle cx="747.7" cy="827.7" r="1.85" fill="#008bfb"/>
<circle cx="754.3" cy="827.7" r="1.85" fill="#008bfb"/>
<circle cx="767.6" cy="827.7" r="1.85" fill="#ff0051"/>
<rect x="776.55" y="825.85" width="5.6" height="3.7" rx="1.85" fill="#008bfb"/>
<circle cx="786.5" cy="823" r="1.85" fill="#008bfb"/>
<circle cx="786.5" cy="827.7" r="1.85" fill="#008bfb"/>
<rect x="803.45" y="825.85" width="7" height="3.7" rx="1.85" fill="#008bfb"/>
<circle cx="811.2" cy="827.7" r="1.85" fill="#ff0051"/>
<circle cx="818.7" cy="827.7" r="1.85" fill="#008bfb"/>
<circle cx="829.4" cy="827.7" r="1.85" fill="#008bfb"/>
<circle cx="845" cy="827.7" r="1.85" fill="#008bfb"/>
<circle cx="862.2" cy="827.7" r="1.85" fill="#ff0051"/>
<circle cx="875.2" cy="827.7" r="1.85" fill="#ff0051"/>
<circle cx="892.9" cy="827.7" r="1.85" fill="#ff0051"/>
<rect x="898.15" y="825.85" width="5.6" height="3.7" rx="1.85" fill="#ff0051"/>
<circle cx="909.4" cy="827.7" r="1.85" fill="#ff0051"/>
<line x1="676.3" y1="853.5" x2="920" y2="853.5" stroke="#222" stroke-width="1"/>
<line x1="691.25" y1="853.5" x2="691.25" y2="856.7" stroke="#777" stroke-width="1"/>
<line x1="723.75" y1="853.5" x2="723.75" y2="856.7" stroke="#777" stroke-width="1"/>
<line x1="756.25" y1="853.5" x2="756.25" y2="856.7" stroke="#777" stroke-width="1"/>
<line x1="789.25" y1="853.5" x2="789.25" y2="856.7" stroke="#777" stroke-width="1"/>
<line x1="821.5" y1="853.5" x2="821.5" y2="856.7" stroke="#777" stroke-width="1"/>
<line x1="854" y1="853.5" x2="854" y2="856.7" stroke="#777" stroke-width="1"/>
<line x1="887" y1="853.5" x2="887" y2="856.7" stroke="#777" stroke-width="1"/>
<line x1="919.5" y1="853.5" x2="919.5" y2="856.7" stroke="#777" stroke-width="1"/>
<text x="691.5" y="873.5" text-anchor="middle" stroke="#000" stroke-width="0.2" font-size="14">-.15</text>
<text x="724" y="873.5" text-anchor="middle" stroke="#000" stroke-width="0.2" font-size="14">-.10</text>
<text x="756.5" y="873.5" text-anchor="middle" stroke="#000" stroke-width="0.2" font-size="14">-.05</text>
<text x="789.5" y="873.5" text-anchor="middle" stroke="#000" stroke-width="0.2" font-size="14">0</text>
<text x="821.5" y="873.5" text-anchor="middle" stroke="#000" stroke-width="0.2" font-size="14">.05</text>
<text x="854" y="873.5" text-anchor="middle" stroke="#000" stroke-width="0.2" font-size="14">.10</text>
<text x="887" y="873.5" text-anchor="middle" stroke="#000" stroke-width="0.2" font-size="14">.15</text>
<text x="920" y="873.5" text-anchor="middle" stroke="#000" stroke-width="0.2" font-size="14">.20</text>
<text x="800.8" y="897" text-anchor="middle" stroke="#000" stroke-width="0.2" font-size="15">SHAP value</text>
<linearGradient id="gA2" x1="0" x2="1" y1="0" y2="0"><stop offset="0%" stop-color="#008bfb"/><stop offset="5%" stop-color="#0084f9"/><stop offset="10%" stop-color="#007cf5"/><stop offset="15%" stop-color="#0074f0"/><stop offset="20%" stop-color="#266cea"/><stop offset="25%" stop-color="#4c63e3"/><stop offset="30%" stop-color="#6459da"/><stop offset="35%" stop-color="#764ed0"/><stop offset="40%" stop-color="#8542c5"/><stop offset="45%" stop-color="#9233b9"/><stop offset="50%" stop-color="#9d22ac"/><stop offset="55%" stop-color="#aa17a7"/><stop offset="60%" stop-color="#b900a0"/><stop offset="65%" stop-color="#c70098"/><stop offset="70%" stop-color="#d40090"/><stop offset="75%" stop-color="#df0086"/><stop offset="80%" stop-color="#e9007c"/><stop offset="85%" stop-color="#f10072"/><stop offset="90%" stop-color="#f80067"/><stop offset="95%" stop-color="#fe005c"/><stop offset="100%" stop-color="#ff0051"/></linearGradient>
<rect x="674.8" y="923" width="250.2" height="5.6" fill="url(#gA2)"/>
<text x="670" y="945" stroke="#000" stroke-width="0.2" font-size="15">Lo</text>
<text x="935.5" y="945" text-anchor="end" stroke="#000" stroke-width="0.2" font-size="15">High</text>
<text x="795.8" y="952" text-anchor="middle" stroke="#000" stroke-width="0.2" font-size="15">Feature Value</text>
<line x1="1182.8" y1="471" x2="1428.3" y2="471" stroke="#d9d9d9" stroke-width="1" stroke-dasharray="0.9 1.9"/>
<text x="1177.7" y="475.8" text-anchor="end" stroke="#000" stroke-width="0.2" font-size="13.95">Fibroblast Growth Factor 19</text>
<line x1="1182.8" y1="496.49" x2="1428.3" y2="496.49" stroke="#d9d9d9" stroke-width="1" stroke-dasharray="0.9 1.9"/>
<text x="1177.7" y="501.19" text-anchor="end" stroke="#000" stroke-width="0.2" font-size="13.95">Interferon Gamma</text>
<line x1="1182.8" y1="521.99" x2="1428.3" y2="521.99" stroke="#d9d9d9" stroke-width="1" stroke-dasharray="0.9 1.9"/>
<text x="1177.7" y="526.59" text-anchor="end" stroke="#000" stroke-width="0.2" font-size="13.95">AN – DMN (meditation)</text>
<line x1="1182.8" y1="547.48" x2="1428.3" y2="547.48" stroke="#d9d9d9" stroke-width="1" stroke-dasharray="0.9 1.9"/>
<text x="1177.7" y="551.98" text-anchor="end" stroke="#000" stroke-width="0.2" font-size="13.95">VN – DAN (rest)</text>
<line x1="1182.8" y1="572.97" x2="1428.3" y2="572.97" stroke="#d9d9d9" stroke-width="1" stroke-dasharray="0.9 1.9"/>
<text x="1177.7" y="577.37" text-anchor="end" stroke="#000" stroke-width="0.2" font-size="13.95">AN – SN (rest)</text>
<line x1="1182.8" y1="598.46" x2="1428.3" y2="598.46" stroke="#d9d9d9" stroke-width="1" stroke-dasharray="0.9 1.9"/>
<text x="1177.7" y="602.76" text-anchor="end" stroke="#000" stroke-width="0.2" font-size="13.95">left AI - left AG (meditation)</text>
<line x1="1182.8" y1="623.96" x2="1428.3" y2="623.96" stroke="#d9d9d9" stroke-width="1" stroke-dasharray="0.9 1.9"/>
<text x="1177.7" y="628.16" text-anchor="end" stroke="#000" stroke-width="0.2" font-size="13.95">C-C Motif Chemokine Ligand 5</text>
<line x1="1182.8" y1="649.45" x2="1428.3" y2="649.45" stroke="#d9d9d9" stroke-width="1" stroke-dasharray="0.9 1.9"/>
<text x="1177.7" y="653.55" text-anchor="end" stroke="#000" stroke-width="0.2" font-size="13.95">Sirtuin 3</text>
<line x1="1182.8" y1="674.94" x2="1428.3" y2="674.94" stroke="#d9d9d9" stroke-width="1" stroke-dasharray="0.9 1.9"/>
<text x="1177.7" y="678.94" text-anchor="end" stroke="#000" stroke-width="0.2" font-size="13.95">Fibroblast Growth Factor 19</text>
<line x1="1182.8" y1="700.44" x2="1428.3" y2="700.44" stroke="#d9d9d9" stroke-width="1" stroke-dasharray="0.9 1.9"/>
<text x="1177.7" y="704.34" text-anchor="end" stroke="#000" stroke-width="0.2" font-size="13.95">Sirtuin 2</text>
<line x1="1182.8" y1="725.93" x2="1428.3" y2="725.93" stroke="#d9d9d9" stroke-width="1" stroke-dasharray="0.9 1.9"/>
<text x="1177.7" y="729.73" text-anchor="end" stroke="#000" stroke-width="0.2" font-size="13.95">Phosphatase &amp; Tensin Homolog</text>
<line x1="1182.8" y1="751.42" x2="1428.3" y2="751.42" stroke="#d9d9d9" stroke-width="1" stroke-dasharray="0.9 1.9"/>
<text x="1177.7" y="755.12" text-anchor="end" stroke="#000" stroke-width="0.2" font-size="13.95">Neurotrophin 4</text>
<line x1="1182.8" y1="776.91" x2="1428.3" y2="776.91" stroke="#d9d9d9" stroke-width="1" stroke-dasharray="0.9 1.9"/>
<text x="1177.7" y="780.51" text-anchor="end" stroke="#000" stroke-width="0.2" font-size="13.95">Toll Like Receptor 2</text>
<line x1="1182.8" y1="802.41" x2="1428.3" y2="802.41" stroke="#d9d9d9" stroke-width="1" stroke-dasharray="0.9 1.9"/>
<text x="1177.7" y="805.91" text-anchor="end" stroke="#000" stroke-width="0.2" font-size="13.95">GAPDH</text>
<line x1="1182.8" y1="827.9" x2="1428.3" y2="827.9" stroke="#d9d9d9" stroke-width="1" stroke-dasharray="0.9 1.9"/>
<text x="1177.7" y="831.3" text-anchor="end" stroke="#000" stroke-width="0.2" font-size="13.95">Sum of 380 other features</text>
<line x1="1301.4" y1="445.5" x2="1301.4" y2="853.5" stroke="#8a8a8a" stroke-width="1.2"/>
<rect x="1415.45" y="461.84" width="3.7" height="4.42" rx="1.85" fill="#008bfb"/>
<rect x="1415.45" y="464.22" width="3.7" height="4.42" rx="1.85" fill="#9d22ac"/>
<rect x="1415.45" y="466.6" width="3.7" height="4.42" rx="1.85" fill="#ff0051"/>
<rect x="1415.45" y="468.98" width="3.7" height="4.42" rx="1.85" fill="#6459da"/>
<rect x="1415.45" y="471.36" width="3.7" height="4.42" rx="1.85" fill="#ff0051"/>
<rect x="1415.45" y="473.74" width="3.7" height="4.42" rx="1.85" fill="#ff0051"/>
<rect x="1192.55" y="492.49" width="3.7" height="5.2" rx="1.85" fill="#008bfb"/>
<rect x="1412.75" y="487.99" width="3.7" height="14.4" rx="1.85" fill="#ff0051"/>
<rect x="1199.45" y="513.69" width="3.7" height="16.6" rx="1.85" fill="#ff0051"/>
<circle cx="1409.5" cy="521.99" r="1.85" fill="#008bfb"/>
<rect x="1213.15" y="539.78" width="3.7" height="15.4" rx="1.85" fill="#ff0051"/>
<rect x="1399.65" y="543.08" width="3.7" height="8.8" rx="1.85" fill="#0084f9"/>
<rect x="1217.65" y="565.37" width="3.7" height="15.2" rx="1.85" fill="#ff0051"/>
<rect x="1394.85" y="567.68" width="3.7" height="4.88" rx="1.85" fill="#008bfb"/>
<rect x="1394.85" y="570.53" width="3.7" height="4.88" rx="1.85" fill="#b900a0"/>
<rect x="1394.85" y="573.38" width="3.7" height="4.88" rx="1.85" fill="#008bfb"/>
<rect x="1226.65" y="591.06" width="3.7" height="12" rx="1.85" fill="#ff0051"/>
<rect x="1389.05" y="590.51" width="3.7" height="4.8" rx="1.85" fill="#8542c5"/>
<rect x="1389.05" y="593.28" width="3.7" height="4.8" rx="1.85" fill="#008bfb"/>
<rect x="1389.05" y="596.05" width="3.7" height="4.8" rx="1.85" fill="#8542c5"/>
<rect x="1389.05" y="598.81" width="3.7" height="4.8" rx="1.85" fill="#8542c5"/>
<rect x="1244.95" y="619.96" width="3.7" height="5.6" rx="1.85" fill="#008bfb"/>
<rect x="1345.45" y="614.83" width="3.7" height="4.76" rx="1.85" fill="#ff0051"/>
<rect x="1345.45" y="617.55" width="3.7" height="4.76" rx="1.85" fill="#aa17a7"/>
<rect x="1345.45" y="620.28" width="3.7" height="4.76" rx="1.85" fill="#aa17a7"/>
<rect x="1345.45" y="623" width="3.7" height="4.76" rx="1.85" fill="#aa17a7"/>
<rect x="1345.45" y="625.73" width="3.7" height="4.76" rx="1.85" fill="#aa17a7"/>
<rect x="1249.25" y="644.86" width="3.7" height="4.69" rx="1.85" fill="#b900a0"/>
<rect x="1249.25" y="647.51" width="3.7" height="4.69" rx="1.85" fill="#008bfb"/>
<rect x="1249.25" y="650.16" width="3.7" height="4.69" rx="1.85" fill="#008bfb"/>
<rect x="1344.35" y="641.65" width="3.7" height="15.6" rx="1.85" fill="#ff0051"/>
<rect x="1343.65" y="666.28" width="3.7" height="4.02" rx="1.85" fill="#008bfb"/>
<rect x="1343.65" y="668.27" width="3.7" height="4.02" rx="1.85" fill="#ff0051"/>
<rect x="1343.65" y="670.25" width="3.7" height="4.02" rx="1.85" fill="#9d22ac"/>
<rect x="1343.65" y="672.23" width="3.7" height="4.02" rx="1.85" fill="#ff0051"/>
<rect x="1343.65" y="674.22" width="3.7" height="4.02" rx="1.85" fill="#ff0051"/>
<rect x="1343.65" y="676.2" width="3.7" height="4.02" rx="1.85" fill="#008bfb"/>
<rect x="1343.65" y="678.18" width="3.7" height="4.02" rx="1.85" fill="#ff0051"/>
<rect x="1255.55" y="696.52" width="3.7" height="3.93" rx="1.85" fill="#ff0051"/>
<rect x="1255.55" y="698.42" width="3.7" height="3.93" rx="1.85" fill="#008bfb"/>
<rect x="1342.45" y="692.14" width="3.7" height="14.8" rx="1.85" fill="#ff0051"/>
<rect x="1299.55" y="716.77" width="3.7" height="4.42" rx="1.85" fill="#ff0051"/>
<rect x="1299.55" y="719.15" width="3.7" height="4.42" rx="1.85" fill="#ff0051"/>
<rect x="1299.55" y="721.53" width="3.7" height="4.42" rx="1.85" fill="#008bfb"/>
<rect x="1299.55" y="723.91" width="3.7" height="4.42" rx="1.85" fill="#b900a0"/>
<rect x="1299.55" y="726.29" width="3.7" height="4.42" rx="1.85" fill="#ff0051"/>
<rect x="1299.55" y="728.67" width="3.7" height="4.42" rx="1.85" fill="#008bfb"/>
<rect x="1299.55" y="742.52" width="3.7" height="4.5" rx="1.85" fill="#ff0051"/>
<rect x="1299.55" y="744.98" width="3.7" height="4.5" rx="1.85" fill="#e9007c"/>
<rect x="1299.55" y="747.44" width="3.7" height="4.5" rx="1.85" fill="#ff0051"/>
<rect x="1299.55" y="749.9" width="3.7" height="4.5" rx="1.85" fill="#008bfb"/>
<rect x="1299.55" y="752.36" width="3.7" height="4.5" rx="1.85" fill="#ff0051"/>
<rect x="1299.55" y="754.82" width="3.7" height="4.5" rx="1.85" fill="#ff0051"/>
<rect x="1299.55" y="767.92" width="3.7" height="4.5" rx="1.85" fill="#e9007c"/>
<rect x="1299.55" y="770.38" width="3.7" height="4.5" rx="1.85" fill="#ff0051"/>
<rect x="1299.55" y="772.84" width="3.7" height="4.5" rx="1.85" fill="#ff0051"/>
<rect x="1299.55" y="775.3" width="3.7" height="4.5" rx="1.85" fill="#008bfb"/>
<rect x="1299.55" y="777.76" width="3.7" height="4.5" rx="1.85" fill="#ff0051"/>
<rect x="1299.55" y="780.22" width="3.7" height="4.5" rx="1.85" fill="#6459da"/>
<rect x="1299.55" y="793.85" width="3.7" height="4.02" rx="1.85" fill="#008bfb"/>
<rect x="1299.55" y="795.83" width="3.7" height="4.02" rx="1.85" fill="#ff0051"/>
<rect x="1299.55" y="797.81" width="3.7" height="4.02" rx="1.85" fill="#d40090"/>
<rect x="1299.55" y="799.8" width="3.7" height="4.02" rx="1.85" fill="#ff0051"/>
<rect x="1299.55" y="801.78" width="3.7" height="4.02" rx="1.85" fill="#ff0051"/>
<rect x="1299.55" y="803.76" width="3.7" height="4.02" rx="1.85" fill="#008bfb"/>
<rect x="1299.55" y="805.75" width="3.7" height="4.02" rx="1.85" fill="#ff0051"/>
<rect x="1299.55" y="819.24" width="3.7" height="4.02" rx="1.85" fill="#b900a0"/>
<rect x="1299.55" y="821.22" width="3.7" height="4.02" rx="1.85" fill="#b900a0"/>
<rect x="1299.55" y="823.21" width="3.7" height="4.02" rx="1.85" fill="#ff0051"/>
<rect x="1299.55" y="825.19" width="3.7" height="4.02" rx="1.85" fill="#ff0051"/>
<rect x="1299.55" y="827.17" width="3.7" height="4.02" rx="1.85" fill="#ff0051"/>
<rect x="1299.55" y="829.16" width="3.7" height="4.02" rx="1.85" fill="#008bfb"/>
<rect x="1299.55" y="831.14" width="3.7" height="4.02" rx="1.85" fill="#266cea"/>
<line x1="1182.8" y1="853.5" x2="1428.3" y2="853.5" stroke="#222" stroke-width="1"/>
<line x1="1211" y1="853.5" x2="1211" y2="856.7" stroke="#777" stroke-width="1"/>
<line x1="1256" y1="853.5" x2="1256" y2="856.7" stroke="#777" stroke-width="1"/>
<line x1="1301" y1="853.5" x2="1301" y2="856.7" stroke="#777" stroke-width="1"/>
<line x1="1346" y1="853.5" x2="1346" y2="856.7" stroke="#777" stroke-width="1"/>
<line x1="1392" y1="853.5" x2="1392" y2="856.7" stroke="#777" stroke-width="1"/>
<text x="1195" y="873.5" text-anchor="middle" stroke="#000" stroke-width="0.2" font-size="14">-.4</text>
<text x="1242" y="873.5" text-anchor="middle" stroke="#000" stroke-width="0.2" font-size="14">-.2</text>
<text x="1286.3" y="873.5" text-anchor="middle" stroke="#000" stroke-width="0.2" font-size="14">0</text>
<text x="1329.5" y="873.5" text-anchor="middle" stroke="#000" stroke-width="0.2" font-size="14">.2</text>
<text x="1372" y="873.5" text-anchor="middle" stroke="#000" stroke-width="0.2" font-size="14">.4</text>
<text x="1415.5" y="873.5" text-anchor="middle" stroke="#000" stroke-width="0.2" font-size="14">.6</text>
<text x="1300.8" y="897" text-anchor="middle" stroke="#000" stroke-width="0.2" font-size="15">SHAP value</text>
<linearGradient id="gB1" x1="0" x2="1" y1="0" y2="0"><stop offset="0%" stop-color="#008bfb"/><stop offset="5%" stop-color="#0084f9"/><stop offset="10%" stop-color="#007cf5"/><stop offset="15%" stop-color="#0074f0"/><stop offset="20%" stop-color="#266cea"/><stop offset="25%" stop-color="#4c63e3"/><stop offset="30%" stop-color="#6459da"/><stop offset="35%" stop-color="#764ed0"/><stop offset="40%" stop-color="#8542c5"/><stop offset="45%" stop-color="#9233b9"/><stop offset="50%" stop-color="#9d22ac"/><stop offset="55%" stop-color="#aa17a7"/><stop offset="60%" stop-color="#b900a0"/><stop offset="65%" stop-color="#c70098"/><stop offset="70%" stop-color="#d40090"/><stop offset="75%" stop-color="#df0086"/><stop offset="80%" stop-color="#e9007c"/><stop offset="85%" stop-color="#f10072"/><stop offset="90%" stop-color="#f80067"/><stop offset="95%" stop-color="#fe005c"/><stop offset="100%" stop-color="#ff0051"/></linearGradient>
<rect x="1179.8" y="923" width="249.7" height="5.6" fill="url(#gB1)"/>
<text x="1175" y="945" stroke="#000" stroke-width="0.2" font-size="15">Lo</text>
<text x="1440" y="945" text-anchor="end" stroke="#000" stroke-width="0.2" font-size="15">High</text>
<text x="1300.3" y="952" text-anchor="middle" stroke="#000" stroke-width="0.2" font-size="15">Feature Value</text>
<line x1="1701.7" y1="473.5" x2="1947" y2="473.5" stroke="#d9d9d9" stroke-width="1" stroke-dasharray="0.9 1.9"/>
<text x="1698.2" y="474" text-anchor="end" stroke="#000" stroke-width="0.2" font-size="13.55">AN – SN (rest)</text>
<line x1="1701.7" y1="498.85" x2="1947" y2="498.85" stroke="#d9d9d9" stroke-width="1" stroke-dasharray="0.9 1.9"/>
<text x="1698.2" y="499.29" text-anchor="end" stroke="#000" stroke-width="0.2" font-size="13.55">Myocyte Enhancer Factor 2C</text>
<line x1="1701.7" y1="524.2" x2="1947" y2="524.2" stroke="#d9d9d9" stroke-width="1" stroke-dasharray="0.9 1.9"/>
<text x="1698.2" y="524.57" text-anchor="end" stroke="#000" stroke-width="0.2" font-size="13.55">Lactate Dehydrogenase A</text>
<line x1="1701.7" y1="549.55" x2="1947" y2="549.55" stroke="#d9d9d9" stroke-width="1" stroke-dasharray="0.9 1.9"/>
<text x="1698.2" y="549.86" text-anchor="end" stroke="#000" stroke-width="0.2" font-size="13.55">DAN – DMN (meditation)</text>
<line x1="1701.7" y1="574.9" x2="1947" y2="574.9" stroke="#d9d9d9" stroke-width="1" stroke-dasharray="0.9 1.9"/>
<text x="1698.2" y="575.14" text-anchor="end" stroke="#000" stroke-width="0.2" font-size="13.55">Myocyte Enhancer Factor 2D</text>
<line x1="1701.7" y1="600.25" x2="1947" y2="600.25" stroke="#d9d9d9" stroke-width="1" stroke-dasharray="0.9 1.9"/>
<text x="1698.2" y="600.43" text-anchor="end" stroke="#000" stroke-width="0.2" font-size="13.55">left AI – left AG (meditation)</text>
<line x1="1701.7" y1="625.6" x2="1947" y2="625.6" stroke="#d9d9d9" stroke-width="1" stroke-dasharray="0.9 1.9"/>
<text x="1698.2" y="625.71" text-anchor="end" stroke="#000" stroke-width="0.2" font-size="13.55">Interferon Gamma</text>
<line x1="1701.7" y1="650.95" x2="1947" y2="650.95" stroke="#d9d9d9" stroke-width="1" stroke-dasharray="0.9 1.9"/>
<text x="1698.2" y="651" text-anchor="end" stroke="#000" stroke-width="0.2" font-size="13.55">VN – ECN (meditation)</text>
<line x1="1701.7" y1="676.3" x2="1947" y2="676.3" stroke="#d9d9d9" stroke-width="1" stroke-dasharray="0.9 1.9"/>
<text x="1698.2" y="676.29" text-anchor="end" stroke="#000" stroke-width="0.2" font-size="13.55">SMN – SN (rest)</text>
<line x1="1701.7" y1="701.65" x2="1947" y2="701.65" stroke="#d9d9d9" stroke-width="1" stroke-dasharray="0.9 1.9"/>
<text x="1698.2" y="701.57" text-anchor="end" stroke="#000" stroke-width="0.2" font-size="13.25">ATP Synthase ATP5PB</text>
<line x1="1701.7" y1="727" x2="1947" y2="727" stroke="#d9d9d9" stroke-width="1" stroke-dasharray="0.9 1.9"/>
<text x="1698.2" y="726.86" text-anchor="end" stroke="#000" stroke-width="0.2" font-size="13.2">Prodynorphin</text>
<line x1="1701.7" y1="752.35" x2="1947" y2="752.35" stroke="#d9d9d9" stroke-width="1" stroke-dasharray="0.9 1.9"/>
<text x="1698.2" y="752.14" text-anchor="end" stroke="#000" stroke-width="0.2" font-size="13.4">Sirtuin 2</text>
<line x1="1701.7" y1="777.7" x2="1947" y2="777.7" stroke="#d9d9d9" stroke-width="1" stroke-dasharray="0.9 1.9"/>
<text x="1698.2" y="777.43" text-anchor="end" stroke="#000" stroke-width="0.2" font-size="13.2">Neurotrophin Receptor Tyrosine Kinase 2</text>
<line x1="1701.7" y1="803.05" x2="1947" y2="803.05" stroke="#d9d9d9" stroke-width="1" stroke-dasharray="0.9 1.9"/>
<text x="1698.2" y="802.71" text-anchor="end" stroke="#000" stroke-width="0.2" font-size="13.35">SN – DAN (meditation)</text>
<line x1="1701.7" y1="828.4" x2="1947" y2="828.4" stroke="#d9d9d9" stroke-width="1" stroke-dasharray="0.9 1.9"/>
<text x="1698.2" y="828" text-anchor="end" stroke="#000" stroke-width="0.2" font-size="13.45">Sum of 380 other features</text>
<line x1="1826.25" y1="448.4" x2="1826.25" y2="853.5" stroke="#8a8a8a" stroke-width="1.2"/>
<rect x="1784.65" y="466.3" width="3.7" height="11.4" rx="1.85" fill="#ff0051"/>
<circle cx="1792.9" cy="473.5" r="1.85" fill="#ff0051"/>
<circle cx="1825.4" cy="473.5" r="1.85" fill="#b900a0"/>
<rect x="1852.25" y="469" width="3.7" height="6" rx="1.85" fill="#008bfb"/>
<circle cx="1785.2" cy="498.85" r="1.85" fill="#008bfb"/>
<rect x="1848.25" y="491.45" width="3.7" height="14.8" rx="1.85" fill="#ff0051"/>
<rect x="1844.45" y="494.45" width="3.7" height="6" rx="1.85" fill="#ff0051"/>
<rect x="1799.75" y="515.68" width="3.7" height="4.54" rx="1.85" fill="#ff0051"/>
<rect x="1799.75" y="518.18" width="3.7" height="4.54" rx="1.85" fill="#e9007c"/>
<rect x="1799.75" y="520.68" width="3.7" height="4.54" rx="1.85" fill="#9d22ac"/>
<rect x="1799.75" y="523.18" width="3.7" height="4.54" rx="1.85" fill="#ff0051"/>
<rect x="1799.75" y="525.68" width="3.7" height="4.54" rx="1.85" fill="#9d22ac"/>
<rect x="1799.75" y="528.18" width="3.7" height="4.54" rx="1.85" fill="#9d22ac"/>
<rect x="1840.85" y="522.35" width="6.3" height="3.7" rx="1.85" fill="#008bfb"/>
<rect x="1790.65" y="542.47" width="3.7" height="4.06" rx="1.85" fill="#0074f0"/>
<rect x="1790.65" y="544.5" width="3.7" height="4.06" rx="1.85" fill="#008bfb"/>
<rect x="1790.65" y="546.52" width="3.7" height="4.06" rx="1.85" fill="#008bfb"/>
<rect x="1790.65" y="548.55" width="3.7" height="4.06" rx="1.85" fill="#008bfb"/>
<rect x="1790.65" y="550.57" width="3.7" height="4.06" rx="1.85" fill="#6459da"/>
<rect x="1833.25" y="542.65" width="3.7" height="11.4" rx="1.85" fill="#ff0051"/>
<circle cx="1811.9" cy="574.9" r="1.85" fill="#008bfb"/>
<circle cx="1819.7" cy="574.9" r="1.85" fill="#aa17a7"/>
<rect x="1848.65" y="568.65" width="6.9" height="3.7" rx="1.85" fill="#ff0051"/>
<circle cx="1852.2" cy="574.9" r="1.85" fill="#ff0051"/>
<circle cx="1851.5" cy="579.8" r="1.85" fill="#ff0051"/>
<rect x="1802.45" y="593.35" width="3.7" height="11.4" rx="1.85" fill="#ff0051"/>
<rect x="1843.05" y="592.53" width="3.7" height="4.74" rx="1.85" fill="#008bfb"/>
<rect x="1843.05" y="595.23" width="3.7" height="4.74" rx="1.85" fill="#8542c5"/>
<rect x="1843.05" y="597.93" width="3.7" height="4.74" rx="1.85" fill="#8542c5"/>
<rect x="1843.05" y="600.63" width="3.7" height="4.74" rx="1.85" fill="#8542c5"/>
<rect x="1806.65" y="621.6" width="3.7" height="5.6" rx="1.85" fill="#008bfb"/>
<circle cx="1841.1" cy="625.6" r="1.85" fill="#ff0051"/>
<rect x="1845.75" y="618.7" width="3.7" height="15" rx="1.85" fill="#ff0051"/>
<rect x="1796.35" y="646.15" width="3.7" height="6" rx="1.85" fill="#ff0051"/>
<circle cx="1804.7" cy="650.95" r="1.85" fill="#ff0051"/>
<circle cx="1835.3" cy="650.95" r="1.85" fill="#6459da"/>
<rect x="1837.95" y="642.89" width="3.7" height="4.21" rx="1.85" fill="#008bfb"/>
<rect x="1837.95" y="645.07" width="3.7" height="4.21" rx="1.85" fill="#008bfb"/>
<rect x="1837.95" y="647.25" width="3.7" height="4.21" rx="1.85" fill="#008bfb"/>
<rect x="1837.95" y="649.42" width="3.7" height="4.21" rx="1.85" fill="#008bfb"/>
<rect x="1837.95" y="651.6" width="3.7" height="4.21" rx="1.85" fill="#9d22ac"/>
<circle cx="1799.7" cy="671.6" r="1.85" fill="#ff0051"/>
<circle cx="1799.7" cy="676.3" r="1.85" fill="#ff0051"/>
<circle cx="1799.7" cy="680.8" r="1.85" fill="#ff0051"/>
<rect x="1816.75" y="674.45" width="7.4" height="3.7" rx="1.85" fill="#d9008c"/>
<rect x="1838.85" y="674.45" width="7.4" height="3.7" rx="1.85" fill="#008bfb"/>
<circle cx="1844" cy="671.5" r="1.85" fill="#6459da"/>
<circle cx="1793.6" cy="697.05" r="1.85" fill="#ff0051"/>
<circle cx="1793.6" cy="701.65" r="1.85" fill="#ff0051"/>
<rect x="1834.35" y="695.2" width="5.7" height="3.7" rx="1.85" fill="#8542c5"/>
<rect x="1834.35" y="699.8" width="5.7" height="3.7" rx="1.85" fill="#b900a0"/>
<rect x="1834.35" y="704.4" width="5.7" height="3.7" rx="1.85" fill="#764ed0"/>
<circle cx="1840.5" cy="727" r="1.85" fill="#ff0051"/>
<rect x="1840.85" y="717.91" width="3.7" height="4.29" rx="1.85" fill="#f10072"/>
<rect x="1840.85" y="720.16" width="3.7" height="4.29" rx="1.85" fill="#008bfb"/>
<rect x="1840.85" y="722.41" width="3.7" height="4.29" rx="1.85" fill="#ff0051"/>
<rect x="1840.85" y="724.66" width="3.7" height="4.29" rx="1.85" fill="#ff0051"/>
<rect x="1840.85" y="726.91" width="3.7" height="4.29" rx="1.85" fill="#e9007c"/>
<rect x="1840.85" y="729.16" width="3.7" height="4.29" rx="1.85" fill="#e9007c"/>
<rect x="1840.85" y="731.41" width="3.7" height="4.29" rx="1.85" fill="#008bfb"/>
<circle cx="1802.7" cy="752.35" r="1.85" fill="#008bfb"/>
<rect x="1836.45" y="747.85" width="3.7" height="9" rx="1.85" fill="#ff0051"/>
<rect x="1841.35" y="744.85" width="3.7" height="12" rx="1.85" fill="#ff0051"/>
<circle cx="1834" cy="777.7" r="1.85" fill="#e9007c"/>
<circle cx="1835.6" cy="777.7" r="1.85" fill="#008bfb"/>
<circle cx="1839" cy="773" r="1.85" fill="#ff0051"/>
<circle cx="1839" cy="777.7" r="1.85" fill="#ff0051"/>
<circle cx="1839" cy="782.4" r="1.85" fill="#ff0051"/>
<circle cx="1847.9" cy="772.9" r="1.85" fill="#ff0051"/>
<rect x="1844.15" y="775.85" width="6.2" height="3.7" rx="1.85" fill="#ff0051"/>
<rect x="1793.25" y="798.15" width="3.7" height="6.4" rx="1.85" fill="#008bfb"/>
<rect x="1833.05" y="795.55" width="3.7" height="12" rx="1.85" fill="#ff0051"/>
<rect x="1834.95" y="798.55" width="3.7" height="6" rx="1.85" fill="#ff0051"/>
<rect x="1710.45" y="826.55" width="7.5" height="3.7" rx="1.85" fill="#ff0051"/>
<circle cx="1739.4" cy="828.4" r="1.85" fill="#007cf5"/>
<circle cx="1749.3" cy="828.4" r="1.85" fill="#008bfb"/>
<circle cx="1829.4" cy="828.4" r="1.85" fill="#008bfb"/>
<circle cx="1844.6" cy="828.4" r="1.85" fill="#ff0051"/>
<circle cx="1866.4" cy="828.4" r="1.85" fill="#ff0051"/>
<circle cx="1935.2" cy="828.4" r="1.85" fill="#ff0051"/>
<line x1="1701.7" y1="853.5" x2="1947" y2="853.5" stroke="#222" stroke-width="1"/>
<line x1="1738.8" y1="853.5" x2="1738.8" y2="856.7" stroke="#777" stroke-width="1"/>
<line x1="1782.7" y1="853.5" x2="1782.7" y2="856.7" stroke="#777" stroke-width="1"/>
<line x1="1826.25" y1="853.5" x2="1826.25" y2="856.7" stroke="#777" stroke-width="1"/>
<line x1="1870.4" y1="853.5" x2="1870.4" y2="856.7" stroke="#777" stroke-width="1"/>
<line x1="1914.5" y1="853.5" x2="1914.5" y2="856.7" stroke="#777" stroke-width="1"/>
<text x="1711.5" y="873.5" text-anchor="middle" stroke="#000" stroke-width="0.2" font-size="14">-.100</text>
<text x="1749.4" y="873.5" text-anchor="middle" stroke="#000" stroke-width="0.2" font-size="14">-.075</text>
<text x="1786.6" y="873.5" text-anchor="middle" stroke="#000" stroke-width="0.2" font-size="14">-.050</text>
<text x="1826.3" y="873.5" text-anchor="middle" stroke="#000" stroke-width="0.2" font-size="14">-.025</text>
<text x="1861" y="873.5" text-anchor="middle" stroke="#000" stroke-width="0.2" font-size="14">0</text>
<text x="1896.6" y="873.5" text-anchor="middle" stroke="#000" stroke-width="0.2" font-size="14">.025</text>
<text x="1932.4" y="873.5" text-anchor="middle" stroke="#000" stroke-width="0.2" font-size="14">.050</text>
<text x="1827" y="899" text-anchor="middle" stroke="#000" stroke-width="0.2" font-size="15">SHAP value</text>
<linearGradient id="gB2" x1="0" x2="1" y1="0" y2="0"><stop offset="0%" stop-color="#008bfb"/><stop offset="5%" stop-color="#0084f9"/><stop offset="10%" stop-color="#007cf5"/><stop offset="15%" stop-color="#0074f0"/><stop offset="20%" stop-color="#266cea"/><stop offset="25%" stop-color="#4c63e3"/><stop offset="30%" stop-color="#6459da"/><stop offset="35%" stop-color="#764ed0"/><stop offset="40%" stop-color="#8542c5"/><stop offset="45%" stop-color="#9233b9"/><stop offset="50%" stop-color="#9d22ac"/><stop offset="55%" stop-color="#aa17a7"/><stop offset="60%" stop-color="#b900a0"/><stop offset="65%" stop-color="#c70098"/><stop offset="70%" stop-color="#d40090"/><stop offset="75%" stop-color="#df0086"/><stop offset="80%" stop-color="#e9007c"/><stop offset="85%" stop-color="#f10072"/><stop offset="90%" stop-color="#f80067"/><stop offset="95%" stop-color="#fe005c"/><stop offset="100%" stop-color="#ff0051"/></linearGradient>
<rect x="1698" y="923" width="251" height="5.6" fill="url(#gB2)"/>
<text x="1693" y="945" stroke="#000" stroke-width="0.2" font-size="15">Lo</text>
<text x="1958.3" y="945" text-anchor="end" stroke="#000" stroke-width="0.2" font-size="15">High</text>
<text x="1818.7" y="952" text-anchor="middle" stroke="#000" stroke-width="0.2" font-size="15">Feature Value</text>
<text x="309.5" y="1074" text-anchor="middle" stroke="#000" stroke-width="0.2" font-size="19">XGBoost Time Point Features</text>
<text x="187.3" y="1120" text-anchor="middle" stroke="#000" stroke-width="0.2" font-size="17.6">Pre</text>
<rect x="145" y="1135" width="85.8" height="32.07" fill="#67001f"/>
<rect x="145" y="1166.47" width="85.8" height="32.07" fill="#8a0b25"/>
<rect x="145" y="1197.94" width="85.8" height="32.07" fill="#f5a886"/>
<rect x="145" y="1229.41" width="85.8" height="32.07" fill="#f8bb9e"/>
<rect x="145" y="1260.89" width="85.8" height="32.07" fill="#fcd3bc"/>
<rect x="145" y="1292.36" width="85.8" height="32.07" fill="#fdddcb"/>
<rect x="145" y="1323.83" width="85.8" height="32.07" fill="#f9ebe3"/>
<rect x="145" y="1355.3" width="85.8" height="32.07" fill="#f9f0eb"/>
<rect x="145" y="1386.77" width="85.8" height="32.07" fill="#dae9f2"/>
<rect x="145" y="1418.24" width="85.8" height="32.07" fill="#a2cde3"/>
<rect x="145" y="1449.71" width="85.8" height="32.07" fill="#90c4dd"/>
<rect x="145" y="1481.19" width="85.8" height="32.07" fill="#3c8abe"/>
<rect x="145" y="1512.66" width="85.8" height="32.07" fill="#2065ab"/>
<rect x="145" y="1544.13" width="85.8" height="31.47" fill="#2065ab"/>
<text class="dj" y="1154.93" font-size="10.2" fill="#fff"><tspan x="189.4" text-anchor="middle">0.72</tspan><tspan x="203.53" dy="0.3" font-size="10"> ★</tspan></text>
<text text-anchor="end" stroke="#000" stroke-width="0.2" transform="translate(139.3 1152.54) rotate(-30)" font-size="12.7">3-Indolebutyric Acid</text>
<text x="189.4" y="1186.4" text-anchor="middle" fill="#fff" class="dj" font-size="10.2">0.54</text>
<text text-anchor="end" stroke="#000" stroke-width="0.2" transform="translate(139.3 1182.81) rotate(-30)" font-size="12.7">Precuneus – R AG (rest)</text>
<text x="189.4" y="1217.87" text-anchor="middle" fill="#111" class="dj" font-size="10.2">0.23</text>
<text text-anchor="end" stroke="#000" stroke-width="0.2" transform="translate(139.3 1214.28) rotate(-30)" font-size="12.7">AN – SMN (rest)</text>
<text x="189.4" y="1249.34" text-anchor="middle" fill="#111" class="dj" font-size="10.2">0.19</text>
<text text-anchor="end" stroke="#000" stroke-width="0.2" transform="translate(139.3 1247.85) rotate(-30)" font-size="12.7">Precuneus – R dlPFC (rest)</text>
<text x="189.4" y="1280.82" text-anchor="middle" fill="#111" class="dj" font-size="10.2">0.14</text>
<text text-anchor="end" stroke="#000" stroke-width="0.2" transform="translate(139.3 1282.02) rotate(-30)" font-size="12.7">Precuneus – L AG (rest)</text>
<text x="189.4" y="1312.29" text-anchor="middle" fill="#111" class="dj" font-size="10.2">0.11</text>
<text text-anchor="end" stroke="#000" stroke-width="0.2" transform="translate(139.3 1312.59) rotate(-30)" font-size="12.7">Gly-Lys</text>
<text x="189.4" y="1343.76" text-anchor="middle" fill="#111" class="dj" font-size="10.2">0.05</text>
<text text-anchor="end" stroke="#000" stroke-width="0.2" transform="translate(139.3 1343.16) rotate(-30)" font-size="12.7">Sidekick 2 Protein</text>
<text x="189.4" y="1375.23" text-anchor="middle" fill="#111" class="dj" font-size="10.2">0.03</text>
<text text-anchor="end" stroke="#000" stroke-width="0.2" transform="translate(139.3 1374.94) rotate(-30)" font-size="12.7">Pseudouridine Synthase</text>
<text x="189.4" y="1406.7" text-anchor="middle" fill="#111" class="dj" font-size="10.2">-0.09</text>
<text text-anchor="end" stroke="#000" stroke-width="0.2" transform="translate(139.3 1406.71) rotate(-30)" font-size="12.7">AN – SN (rest)</text>
<text x="189.4" y="1438.17" text-anchor="middle" fill="#111" class="dj" font-size="10.2">-0.21</text>
<text text-anchor="end" stroke="#000" stroke-width="0.2" transform="translate(139.3 1438.48) rotate(-30)" font-size="12.7">DMN – SMN (rest)</text>
<text x="189.4" y="1469.64" text-anchor="middle" fill="#111" class="dj" font-size="10.2">-0.24</text>
<text text-anchor="end" stroke="#000" stroke-width="0.2" transform="translate(139.3 1470.25) rotate(-30)" font-size="12.7">N-acetyl-D-phenylalanine</text>
<text x="189.4" y="1501.12" text-anchor="middle" fill="#fff" class="dj" font-size="10.2">-0.38</text>
<text text-anchor="end" stroke="#000" stroke-width="0.2" transform="translate(139.3 1502.02) rotate(-30)" font-size="12.7">AN – ECN (rest)</text>
<text x="189.4" y="1532.59" text-anchor="middle" fill="#fff" class="dj" font-size="10.2">-0.48</text>
<text text-anchor="end" stroke="#000" stroke-width="0.2" transform="translate(139.3 1533.79) rotate(-30)" font-size="12.7">Fibrinogen-like Protein 1</text>
<text x="189.4" y="1564.06" text-anchor="middle" fill="#fff" class="dj" font-size="10.2">-0.48</text>
<text text-anchor="end" stroke="#000" stroke-width="0.2" transform="translate(139.3 1565.56) rotate(-30)" font-size="12.7">Gly-Gly-Phe</text>
<line x1="187.9" y1="1575.6" x2="187.9" y2="1577.2" stroke="#777" stroke-width="0.8"/>
<text x="436" y="1120" text-anchor="middle" stroke="#000" stroke-width="0.2" font-size="17.6">Post</text>
<rect x="393" y="1135.7" width="86" height="32.02" fill="#6d0220"/>
<rect x="393" y="1167.12" width="86" height="32.02" fill="#730421"/>
<rect x="393" y="1198.54" width="86" height="32.02" fill="#f9c4a9"/>
<rect x="393" y="1229.96" width="86" height="32.02" fill="#f9c4a9"/>
<rect x="393" y="1261.39" width="86" height="32.02" fill="#fbccb4"/>
<rect x="393" y="1292.81" width="86" height="32.02" fill="#fce2d2"/>
<rect x="393" y="1324.23" width="86" height="32.02" fill="#fae7dc"/>
<rect x="393" y="1355.65" width="86" height="32.02" fill="#dae9f2"/>
<rect x="393" y="1387.07" width="86" height="32.02" fill="#d1e5f0"/>
<rect x="393" y="1418.49" width="86" height="32.02" fill="#c7e0ed"/>
<rect x="393" y="1449.91" width="86" height="32.02" fill="#c2ddec"/>
<rect x="393" y="1481.34" width="86" height="32.02" fill="#8ac0db"/>
<rect x="393" y="1512.76" width="86" height="32.02" fill="#3c8abe"/>
<rect x="393" y="1544.18" width="86" height="31.42" fill="#3480b9"/>
<text x="437.5" y="1155.61" text-anchor="middle" fill="#fff" class="dj" font-size="10.2">0.59</text>
<text text-anchor="end" stroke="#000" stroke-width="0.2" transform="translate(384.8 1155.21) rotate(-30)" font-size="12.7">N-acetyl-D-phenylalanine</text>
<text x="437.5" y="1187.03" text-anchor="middle" fill="#fff" class="dj" font-size="10.2">0.58</text>
<text text-anchor="end" stroke="#000" stroke-width="0.2" transform="translate(384.8 1186.59) rotate(-30)" font-size="12.7">Gly-Lys</text>
<text x="437.5" y="1218.45" text-anchor="middle" fill="#111" class="dj" font-size="10.2">0.17</text>
<text text-anchor="end" stroke="#000" stroke-width="0.2" transform="translate(384.8 1217.96) rotate(-30)" font-size="12.7">AN – SMN (rest)</text>
<text x="437.5" y="1249.87" text-anchor="middle" fill="#111" class="dj" font-size="10.2">0.17</text>
<text text-anchor="end" stroke="#000" stroke-width="0.2" transform="translate(384.8 1249.34) rotate(-30)" font-size="12.7">Precuneus – R AG (rest)</text>
<text x="437.5" y="1281.29" text-anchor="middle" fill="#111" class="dj" font-size="10.2">0.15</text>
<text text-anchor="end" stroke="#000" stroke-width="0.2" transform="translate(384.8 1280.71) rotate(-30)" font-size="12.7">Precuneus – R AG (rest)</text>
<text x="437.5" y="1312.71" text-anchor="middle" fill="#111" class="dj" font-size="10.2">0.09</text>
<text text-anchor="end" stroke="#000" stroke-width="0.2" transform="translate(384.8 1312.09) rotate(-30)" font-size="12.7">3-Indolebutyric Acid</text>
<text x="437.5" y="1344.13" text-anchor="middle" fill="#111" class="dj" font-size="10.2">0.07</text>
<text text-anchor="end" stroke="#000" stroke-width="0.2" transform="translate(384.8 1343.46) rotate(-30)" font-size="12.7">AN – ECN (rest)</text>
<text x="437.5" y="1375.56" text-anchor="middle" fill="#111" class="dj" font-size="10.2">-0.09</text>
<text text-anchor="end" stroke="#000" stroke-width="0.2" transform="translate(384.8 1374.84) rotate(-30)" font-size="12.7">AN – SN (rest)</text>
<text x="437.5" y="1406.98" text-anchor="middle" fill="#111" class="dj" font-size="10.2">-0.12</text>
<text text-anchor="end" stroke="#000" stroke-width="0.2" transform="translate(384.8 1406.21) rotate(-30)" font-size="12.7">DMN – SMN (rest)</text>
<text x="437.5" y="1438.4" text-anchor="middle" fill="#111" class="dj" font-size="10.2">-0.14</text>
<text text-anchor="end" stroke="#000" stroke-width="0.2" transform="translate(384.8 1437.59) rotate(-30)" font-size="12.7">Fibrinogen-like Protein 1</text>
<text x="437.5" y="1469.82" text-anchor="middle" fill="#111" class="dj" font-size="10.2">-0.15</text>
<text text-anchor="end" stroke="#000" stroke-width="0.2" transform="translate(384.8 1468.96) rotate(-30)" font-size="12.7">Pseudouridine Synthase</text>
<text x="437.5" y="1501.24" text-anchor="middle" fill="#111" class="dj" font-size="10.2">-0.25</text>
<text text-anchor="end" stroke="#000" stroke-width="0.2" transform="translate(384.8 1500.34) rotate(-30)" font-size="12.7">Precuneus – R dlPFC (rest)</text>
<text x="437.5" y="1532.66" text-anchor="middle" fill="#fff" class="dj" font-size="10.2">-0.38</text>
<text text-anchor="end" stroke="#000" stroke-width="0.2" transform="translate(384.8 1531.71) rotate(-30)" font-size="12.7">Gly-Gly-Phe</text>
<text x="437.5" y="1564.08" text-anchor="middle" fill="#fff" class="dj" font-size="10.2">-0.41</text>
<text text-anchor="end" stroke="#000" stroke-width="0.2" transform="translate(384.8 1563.09) rotate(-30)" font-size="12.7">Sidekick 2 Protein</text>
<line x1="436" y1="1575.6" x2="436" y2="1577.2" stroke="#777" stroke-width="0.8"/>
<linearGradient id="h1" x1="0" x2="1" y1="0" y2="0"><stop offset="0%" stop-color="#053061"/><stop offset="2.5%" stop-color="#0c3d73"/><stop offset="5%" stop-color="#124984"/><stop offset="7.5%" stop-color="#1a5899"/><stop offset="10%" stop-color="#2065ab"/><stop offset="12.5%" stop-color="#2a71b2"/><stop offset="15%" stop-color="#327cb7"/><stop offset="17.5%" stop-color="#3a87bd"/><stop offset="20%" stop-color="#4393c3"/><stop offset="22.5%" stop-color="#569fc9"/><stop offset="25%" stop-color="#6bacd1"/><stop offset="27.5%" stop-color="#7eb8d7"/><stop offset="30%" stop-color="#90c4dd"/><stop offset="32.5%" stop-color="#a2cde3"/><stop offset="35%" stop-color="#b1d5e7"/><stop offset="37.5%" stop-color="#c2ddec"/><stop offset="40%" stop-color="#d1e5f0"/><stop offset="42.5%" stop-color="#dae9f2"/><stop offset="45%" stop-color="#e4eef4"/><stop offset="47.5%" stop-color="#edf2f5"/><stop offset="50%" stop-color="#f7f6f6"/><stop offset="52.5%" stop-color="#f9f0eb"/><stop offset="55%" stop-color="#fae9df"/><stop offset="57.5%" stop-color="#fce2d2"/><stop offset="60%" stop-color="#fddbc7"/><stop offset="62.5%" stop-color="#fbccb4"/><stop offset="65%" stop-color="#f8bfa4"/><stop offset="67.5%" stop-color="#f6b394"/><stop offset="70%" stop-color="#f3a481"/><stop offset="72.5%" stop-color="#ec9374"/><stop offset="75%" stop-color="#e48066"/><stop offset="77.5%" stop-color="#dd7059"/><stop offset="80%" stop-color="#d6604d"/><stop offset="82.5%" stop-color="#cc4c44"/><stop offset="85%" stop-color="#c43b3c"/><stop offset="87.5%" stop-color="#ba2832"/><stop offset="90%" stop-color="#b1182b"/><stop offset="92.5%" stop-color="#9f1228"/><stop offset="95%" stop-color="#8a0b25"/><stop offset="97.5%" stop-color="#790622"/><stop offset="100%" stop-color="#67001f"/></linearGradient>
<rect x="151.3" y="1650.4" width="316.2" height="15.6" fill="url(#h1)"/>
<line x1="151.3" y1="1666" x2="151.3" y2="1668.4" stroke="#999" stroke-width="0.8"/>
<text x="150" y="1684" text-anchor="middle" stroke="#000" stroke-width="0.2" font-size="14">-0.6</text>
<line x1="203.92" y1="1666" x2="203.92" y2="1668.4" stroke="#999" stroke-width="0.8"/>
<text x="202.98" y="1684" text-anchor="middle" stroke="#000" stroke-width="0.2" font-size="14">-0.4</text>
<line x1="256.53" y1="1666" x2="256.53" y2="1668.4" stroke="#999" stroke-width="0.8"/>
<text x="255.97" y="1684" text-anchor="middle" stroke="#000" stroke-width="0.2" font-size="14">-0.2</text>
<line x1="309.15" y1="1666" x2="309.15" y2="1668.4" stroke="#999" stroke-width="0.8"/>
<text x="308.95" y="1684" text-anchor="middle" stroke="#000" stroke-width="0.2" font-size="14">0.0</text>
<line x1="361.77" y1="1666" x2="361.77" y2="1668.4" stroke="#999" stroke-width="0.8"/>
<text x="361.93" y="1684" text-anchor="middle" stroke="#000" stroke-width="0.2" font-size="14">0.2</text>
<line x1="414.38" y1="1666" x2="414.38" y2="1668.4" stroke="#999" stroke-width="0.8"/>
<text x="414.92" y="1684" text-anchor="middle" stroke="#000" stroke-width="0.2" font-size="14">0.4</text>
<line x1="467" y1="1666" x2="467" y2="1668.4" stroke="#999" stroke-width="0.8"/>
<text x="467.9" y="1684" text-anchor="middle" stroke="#000" stroke-width="0.2" font-size="14">0.6</text>
<text x="309.3" y="1705.5" text-anchor="middle" stroke="#000" stroke-width="0.2" font-size="14">Spearman R</text>
<text x="809.2" y="1072.9" text-anchor="middle" stroke="#000" stroke-width="0.2" font-size="19">Random Forest Time Point Features</text>
<text x="684.3" y="1120" text-anchor="middle" stroke="#000" stroke-width="0.2" font-size="17.6">Pre</text>
<rect x="640.8" y="1135" width="86" height="32.4" fill="#67001f"/>
<rect x="640.8" y="1166.8" width="86" height="32.4" fill="#d6604d"/>
<rect x="640.8" y="1198.6" width="86" height="32.4" fill="#fdddcb"/>
<rect x="640.8" y="1230.4" width="86" height="32.4" fill="#f9ebe3"/>
<rect x="640.8" y="1262.2" width="86" height="32.4" fill="#f8f4f2"/>
<rect x="640.8" y="1294" width="86" height="32.4" fill="#dae9f2"/>
<rect x="640.8" y="1325.8" width="86" height="32.4" fill="#bbdaea"/>
<rect x="640.8" y="1357.6" width="86" height="32.4" fill="#90c4dd"/>
<rect x="640.8" y="1389.4" width="86" height="32.4" fill="#84bcd9"/>
<rect x="640.8" y="1421.2" width="86" height="32.4" fill="#408fc1"/>
<rect x="640.8" y="1453" width="86" height="32.4" fill="#3c8abe"/>
<rect x="640.8" y="1484.8" width="86" height="32.4" fill="#2065ab"/>
<rect x="640.8" y="1516.6" width="86" height="32.4" fill="#1a5899"/>
<rect x="640.8" y="1548.4" width="86" height="31.8" fill="#053061"/>
<text class="dj" y="1154.15" font-size="10.35" fill="#fff"><tspan x="683.3" text-anchor="middle">0.72</tspan><tspan x="695.71" dy="0.3" font-size="10.14"> ★</tspan></text>
<text text-anchor="end" stroke="#000" stroke-width="0.2" transform="translate(633.6 1151.9) rotate(-30)" font-size="13.55">3-Indolebutyric Acid</text>
<text x="683.3" y="1185.95" text-anchor="middle" fill="#fff" class="dj" font-size="10.35">0.36</text>
<text text-anchor="end" stroke="#000" stroke-width="0.2" transform="translate(633.6 1183.88) rotate(-30)" font-size="13.55">Gln-Gly</text>
<text x="683.3" y="1217.75" text-anchor="middle" fill="#111" class="dj" font-size="10.35">0.11</text>
<text text-anchor="end" stroke="#000" stroke-width="0.2" transform="translate(633.6 1215.87) rotate(-30)" font-size="13.55">Gly-Lys</text>
<text x="683.3" y="1249.55" text-anchor="middle" fill="#111" class="dj" font-size="10.35">0.05</text>
<text text-anchor="end" stroke="#000" stroke-width="0.2" transform="translate(633.6 1247.85) rotate(-30)" font-size="13.55">Sidekick 2 Protein</text>
<text x="683.3" y="1281.35" text-anchor="middle" fill="#111" class="dj" font-size="10.35">0.01</text>
<text text-anchor="end" stroke="#000" stroke-width="0.2" transform="translate(633.6 1279.84) rotate(-30)" font-size="13.55">Leu-Tyr-Thr-Lys</text>
<text x="683.3" y="1313.15" text-anchor="middle" fill="#111" class="dj" font-size="10.35">-0.09</text>
<text text-anchor="end" stroke="#000" stroke-width="0.2" transform="translate(633.6 1311.82) rotate(-30)" font-size="13.55">AN – SN (rest)</text>
<text x="683.3" y="1344.95" text-anchor="middle" fill="#111" class="dj" font-size="10.35">-0.16</text>
<text text-anchor="end" stroke="#000" stroke-width="0.2" transform="translate(633.6 1343.81) rotate(-30)" font-size="13.55">Purine</text>
<text x="683.3" y="1376.75" text-anchor="middle" fill="#111" class="dj" font-size="10.35">-0.24</text>
<text text-anchor="end" stroke="#000" stroke-width="0.2" transform="translate(633.6 1375.79) rotate(-30)" font-size="13.55">N-acetyl-D-phenylalanine</text>
<text x="683.3" y="1408.55" text-anchor="middle" fill="#fff" class="dj" font-size="10.35">-0.26</text>
<text text-anchor="end" stroke="#000" stroke-width="0.2" transform="translate(633.6 1407.78) rotate(-30)" font-size="13.55">Indole-5-carboxylic Acid</text>
<text x="683.3" y="1440.35" text-anchor="middle" fill="#fff" class="dj" font-size="10.35">-0.37</text>
<text text-anchor="end" stroke="#000" stroke-width="0.2" transform="translate(633.6 1439.76) rotate(-30)" font-size="13.55">Androstenediol</text>
<text x="683.3" y="1472.15" text-anchor="middle" fill="#fff" class="dj" font-size="10.35">-0.38</text>
<text text-anchor="end" stroke="#000" stroke-width="0.2" transform="translate(633.6 1471.75) rotate(-30)" font-size="13.55">S1P(d18:1)</text>
<text x="683.3" y="1503.95" text-anchor="middle" fill="#fff" class="dj" font-size="10.35">-0.48</text>
<text text-anchor="end" stroke="#000" stroke-width="0.2" transform="translate(633.6 1503.73) rotate(-30)" font-size="13.55">Gly-Gly-Phe</text>
<text x="683.3" y="1535.75" text-anchor="middle" fill="#fff" class="dj" font-size="10.35">-0.51</text>
<text text-anchor="end" stroke="#000" stroke-width="0.2" transform="translate(633.6 1535.72) rotate(-30)" font-size="13.55">Benzaldehyde</text>
<text class="dj" y="1567.55" font-size="10.35" fill="#fff"><tspan x="683.3" text-anchor="middle">-0.67</tspan><tspan x="695.71" dy="0.3" font-size="10.14"> ★</tspan></text>
<text text-anchor="end" stroke="#000" stroke-width="0.2" transform="translate(633.6 1567.7) rotate(-30)" font-size="13.55" letter-spacing="0.91">N6-methyladenosine</text>
<line x1="683.8" y1="1580.2" x2="683.8" y2="1581.8" stroke="#777" stroke-width="0.8"/>
<text x="927.5" y="1120" text-anchor="middle" stroke="#000" stroke-width="0.2" font-size="17.6">Post</text>
<rect x="884.5" y="1135" width="86" height="32.42" fill="#6d0220"/>
<rect x="884.5" y="1166.82" width="86" height="32.42" fill="#730421"/>
<rect x="884.5" y="1198.64" width="86" height="32.42" fill="#900d26"/>
<rect x="884.5" y="1230.46" width="86" height="32.42" fill="#fdddcb"/>
<rect x="884.5" y="1262.29" width="86" height="32.42" fill="#fce2d2"/>
<rect x="884.5" y="1294.11" width="86" height="32.42" fill="#f9f0eb"/>
<rect x="884.5" y="1325.93" width="86" height="32.42" fill="#dae9f2"/>
<rect x="884.5" y="1357.75" width="86" height="32.42" fill="#d4e6f1"/>
<rect x="884.5" y="1389.57" width="86" height="32.42" fill="#90c4dd"/>
<rect x="884.5" y="1421.39" width="86" height="32.42" fill="#5ca3cb"/>
<rect x="884.5" y="1453.21" width="86" height="32.42" fill="#3c8abe"/>
<rect x="884.5" y="1485.04" width="86" height="32.42" fill="#3783bb"/>
<rect x="884.5" y="1516.86" width="86" height="32.42" fill="#3783bb"/>
<rect x="884.5" y="1548.68" width="86" height="31.82" fill="#3480b9"/>
<text x="929.5" y="1154.16" text-anchor="middle" fill="#fff" class="dj" font-size="10.35">0.59</text>
<text text-anchor="end" stroke="#000" stroke-width="0.2" transform="translate(877.3 1151.91) rotate(-30)" font-size="13.55">N-acetyl-D-phenylalanine</text>
<text x="929.5" y="1185.98" text-anchor="middle" fill="#fff" class="dj" font-size="10.35">0.58</text>
<text text-anchor="end" stroke="#000" stroke-width="0.2" transform="translate(877.3 1183.9) rotate(-30)" font-size="13.55">Gly-Lys</text>
<text x="929.5" y="1217.8" text-anchor="middle" fill="#fff" class="dj" font-size="10.35">0.53</text>
<text text-anchor="end" stroke="#000" stroke-width="0.2" transform="translate(877.3 1215.89) rotate(-30)" font-size="13.55">Gln-Gly</text>
<text x="929.5" y="1249.63" text-anchor="middle" fill="#111" class="dj" font-size="10.35">0.11</text>
<text text-anchor="end" stroke="#000" stroke-width="0.2" transform="translate(877.3 1247.88) rotate(-30)" font-size="13.55">Androstenediol</text>
<text x="929.5" y="1281.45" text-anchor="middle" fill="#111" class="dj" font-size="10.35">0.09</text>
<text text-anchor="end" stroke="#000" stroke-width="0.2" transform="translate(877.3 1279.87) rotate(-30)" font-size="13.55">3-Indolebutyric Acid</text>
<text x="929.5" y="1313.27" text-anchor="middle" fill="#111" class="dj" font-size="10.35">0.03</text>
<text text-anchor="end" stroke="#000" stroke-width="0.2" transform="translate(877.3 1311.86) rotate(-30)" font-size="13.55">S1P(d18:1)</text>
<text x="929.5" y="1345.09" text-anchor="middle" fill="#111" class="dj" font-size="10.35">-0.09</text>
<text text-anchor="end" stroke="#000" stroke-width="0.2" transform="translate(877.3 1343.85) rotate(-30)" font-size="13.55">AN – SN (rest)</text>
<text x="929.5" y="1376.91" text-anchor="middle" fill="#111" class="dj" font-size="10.35">-0.11</text>
<text text-anchor="end" stroke="#000" stroke-width="0.2" transform="translate(877.3 1375.85) rotate(-30)" font-size="13.55" letter-spacing="0.91">N6-methyladenosine</text>
<text x="929.5" y="1408.73" text-anchor="middle" fill="#fff" class="dj" font-size="10.35">-0.24</text>
<text text-anchor="end" stroke="#000" stroke-width="0.2" transform="translate(877.3 1407.84) rotate(-30)" font-size="13.55">Indole-5-carboxylic Acid</text>
<text x="929.5" y="1440.55" text-anchor="middle" fill="#fff" class="dj" font-size="10.35">-0.32</text>
<text text-anchor="end" stroke="#000" stroke-width="0.2" transform="translate(877.3 1439.83) rotate(-30)" font-size="13.55">Leu-Tyr-Thr-Lys</text>
<text x="929.5" y="1472.38" text-anchor="middle" fill="#fff" class="dj" font-size="10.35">-0.38</text>
<text text-anchor="end" stroke="#000" stroke-width="0.2" transform="translate(877.3 1471.82) rotate(-30)" font-size="13.55">Gly-Gly-Phe</text>
<text x="929.5" y="1504.2" text-anchor="middle" fill="#fff" class="dj" font-size="10.35">-0.40</text>
<text text-anchor="end" stroke="#000" stroke-width="0.2" transform="translate(877.3 1503.81) rotate(-30)" font-size="13.55">Benzaldehyde</text>
<text x="929.5" y="1536.02" text-anchor="middle" fill="#fff" class="dj" font-size="10.35">-0.40</text>
<text text-anchor="end" stroke="#000" stroke-width="0.2" transform="translate(877.3 1535.8) rotate(-30)" font-size="13.55">Purine</text>
<text x="929.5" y="1567.84" text-anchor="middle" fill="#fff" class="dj" font-size="10.35">-0.41</text>
<text text-anchor="end" stroke="#000" stroke-width="0.2" transform="translate(877.3 1567.79) rotate(-30)" font-size="13.55">Sidekick 2 Protein</text>
<line x1="927.5" y1="1580.5" x2="927.5" y2="1582.1" stroke="#777" stroke-width="0.8"/>
<linearGradient id="h2" x1="0" x2="1" y1="0" y2="0"><stop offset="0%" stop-color="#053061"/><stop offset="2.5%" stop-color="#0c3d73"/><stop offset="5%" stop-color="#124984"/><stop offset="7.5%" stop-color="#1a5899"/><stop offset="10%" stop-color="#2065ab"/><stop offset="12.5%" stop-color="#2a71b2"/><stop offset="15%" stop-color="#327cb7"/><stop offset="17.5%" stop-color="#3a87bd"/><stop offset="20%" stop-color="#4393c3"/><stop offset="22.5%" stop-color="#569fc9"/><stop offset="25%" stop-color="#6bacd1"/><stop offset="27.5%" stop-color="#7eb8d7"/><stop offset="30%" stop-color="#90c4dd"/><stop offset="32.5%" stop-color="#a2cde3"/><stop offset="35%" stop-color="#b1d5e7"/><stop offset="37.5%" stop-color="#c2ddec"/><stop offset="40%" stop-color="#d1e5f0"/><stop offset="42.5%" stop-color="#dae9f2"/><stop offset="45%" stop-color="#e4eef4"/><stop offset="47.5%" stop-color="#edf2f5"/><stop offset="50%" stop-color="#f7f6f6"/><stop offset="52.5%" stop-color="#f9f0eb"/><stop offset="55%" stop-color="#fae9df"/><stop offset="57.5%" stop-color="#fce2d2"/><stop offset="60%" stop-color="#fddbc7"/><stop offset="62.5%" stop-color="#fbccb4"/><stop offset="65%" stop-color="#f8bfa4"/><stop offset="67.5%" stop-color="#f6b394"/><stop offset="70%" stop-color="#f3a481"/><stop offset="72.5%" stop-color="#ec9374"/><stop offset="75%" stop-color="#e48066"/><stop offset="77.5%" stop-color="#dd7059"/><stop offset="80%" stop-color="#d6604d"/><stop offset="82.5%" stop-color="#cc4c44"/><stop offset="85%" stop-color="#c43b3c"/><stop offset="87.5%" stop-color="#ba2832"/><stop offset="90%" stop-color="#b1182b"/><stop offset="92.5%" stop-color="#9f1228"/><stop offset="95%" stop-color="#8a0b25"/><stop offset="97.5%" stop-color="#790622"/><stop offset="100%" stop-color="#67001f"/></linearGradient>
<rect x="645.8" y="1650.4" width="315.7" height="15.6" fill="url(#h2)"/>
<line x1="645.8" y1="1666" x2="645.8" y2="1668.4" stroke="#999" stroke-width="0.8"/>
<text x="644.5" y="1684" text-anchor="middle" stroke="#000" stroke-width="0.2" font-size="14">-0.6</text>
<line x1="698.33" y1="1666" x2="698.33" y2="1668.4" stroke="#999" stroke-width="0.8"/>
<text x="697.4" y="1684" text-anchor="middle" stroke="#000" stroke-width="0.2" font-size="14">-0.4</text>
<line x1="750.87" y1="1666" x2="750.87" y2="1668.4" stroke="#999" stroke-width="0.8"/>
<text x="750.3" y="1684" text-anchor="middle" stroke="#000" stroke-width="0.2" font-size="14">-0.2</text>
<line x1="803.4" y1="1666" x2="803.4" y2="1668.4" stroke="#999" stroke-width="0.8"/>
<text x="803.2" y="1684" text-anchor="middle" stroke="#000" stroke-width="0.2" font-size="14">0.0</text>
<line x1="855.93" y1="1666" x2="855.93" y2="1668.4" stroke="#999" stroke-width="0.8"/>
<text x="856.1" y="1684" text-anchor="middle" stroke="#000" stroke-width="0.2" font-size="14">0.2</text>
<line x1="908.47" y1="1666" x2="908.47" y2="1668.4" stroke="#999" stroke-width="0.8"/>
<text x="909" y="1684" text-anchor="middle" stroke="#000" stroke-width="0.2" font-size="14">0.4</text>
<line x1="961" y1="1666" x2="961" y2="1668.4" stroke="#999" stroke-width="0.8"/>
<text x="961.9" y="1684" text-anchor="middle" stroke="#000" stroke-width="0.2" font-size="14">0.6</text>
<text x="803.3" y="1705.5" text-anchor="middle" stroke="#000" stroke-width="0.2" font-size="14">Spearman R</text>
<text x="1316" y="1073.6" text-anchor="middle" stroke="#000" stroke-width="0.2" font-size="19">XGBoost Experience Features</text>
<text x="1184" y="1120" text-anchor="middle" stroke="#000" stroke-width="0.2" font-size="17.6">Pre</text>
<rect x="1140.8" y="1132" width="86" height="32.46" fill="#d6604d"/>
<rect x="1140.8" y="1163.86" width="86" height="32.46" fill="#d86551"/>
<rect x="1140.8" y="1195.71" width="86" height="32.46" fill="#ef9979"/>
<rect x="1140.8" y="1227.57" width="86" height="32.46" fill="#fcdfcf"/>
<rect x="1140.8" y="1259.43" width="86" height="32.46" fill="#fae9df"/>
<rect x="1140.8" y="1291.29" width="86" height="32.46" fill="#f7f6f6"/>
<rect x="1140.8" y="1323.14" width="86" height="32.46" fill="#f3f5f6"/>
<rect x="1140.8" y="1355" width="86" height="32.46" fill="#f0f4f6"/>
<rect x="1140.8" y="1386.86" width="86" height="32.46" fill="#e7f0f4"/>
<rect x="1140.8" y="1418.71" width="86" height="32.46" fill="#e4eef4"/>
<rect x="1140.8" y="1450.57" width="86" height="32.46" fill="#4f9bc7"/>
<rect x="1140.8" y="1482.43" width="86" height="32.46" fill="#408fc1"/>
<rect x="1140.8" y="1514.29" width="86" height="32.46" fill="#053061"/>
<rect x="1140.8" y="1546.14" width="86" height="31.86" fill="#053061"/>
<text x="1182.6" y="1151.89" text-anchor="middle" fill="#fff" class="dj" font-size="11.2">0.36</text>
<text text-anchor="end" stroke="#000" stroke-width="0.2" transform="translate(1133.8 1149.43) rotate(-30)" font-size="14">VN – DAN (rest)</text>
<text x="1182.6" y="1183.75" text-anchor="middle" fill="#fff" class="dj" font-size="11.2">0.35</text>
<text text-anchor="end" stroke="#000" stroke-width="0.2" transform="translate(1133.8 1181.55) rotate(-30)" font-size="14">AN – SN (rest)</text>
<text x="1182.6" y="1215.61" text-anchor="middle" fill="#111" class="dj" font-size="11.2">0.26</text>
<text text-anchor="end" stroke="#000" stroke-width="0.2" transform="translate(1133.8 1215.18) rotate(-30)" font-size="14">Neurotrophin 4</text>
<text x="1182.6" y="1247.47" text-anchor="middle" fill="#111" class="dj" font-size="11.2">0.10</text>
<text text-anchor="end" stroke="#000" stroke-width="0.2" transform="translate(1133.8 1246.81) rotate(-30)" font-size="14">Toll Like Receptor 2</text>
<text x="1182.6" y="1279.32" text-anchor="middle" fill="#111" class="dj" font-size="11.2">0.06</text>
<text text-anchor="end" stroke="#000" stroke-width="0.2" transform="translate(1133.8 1280.43) rotate(-30)" font-size="14">GAPDH</text>
<text x="1182.6" y="1311.18" text-anchor="middle" fill="#111" class="dj" font-size="11.2">0.00</text>
<text text-anchor="end" stroke="#000" stroke-width="0.2" transform="translate(1133.8 1310.06) rotate(-30)" font-size="14">C-CM Chem. Ligand 5</text>
<text x="1182.6" y="1343.04" text-anchor="middle" fill="#111" class="dj" font-size="11.2">-0.01</text>
<text text-anchor="end" stroke="#000" stroke-width="0.2" transform="translate(1133.8 1342.19) rotate(-30)" font-size="14">L AI - L AG (meditation)</text>
<text x="1182.6" y="1374.89" text-anchor="middle" fill="#111" class="dj" font-size="11.2">-0.02</text>
<text text-anchor="end" stroke="#000" stroke-width="0.2" transform="translate(1133.8 1374.31) rotate(-30)" font-size="14">Sirtuin 3</text>
<text x="1182.6" y="1406.75" text-anchor="middle" fill="#111" class="dj" font-size="11.2">-0.05</text>
<text text-anchor="end" stroke="#000" stroke-width="0.2" transform="translate(1133.8 1406.44) rotate(-30)" font-size="14">AN – DMN (meditation)</text>
<text x="1182.6" y="1438.61" text-anchor="middle" fill="#111" class="dj" font-size="11.2">-0.06</text>
<text text-anchor="end" stroke="#000" stroke-width="0.2" transform="translate(1133.8 1438.57) rotate(-30)" font-size="14">Phosphatase &amp; Tensin H.</text>
<text x="1182.6" y="1470.47" text-anchor="middle" fill="#fff" class="dj" font-size="11.2">-0.34</text>
<text text-anchor="end" stroke="#000" stroke-width="0.2" transform="translate(1133.8 1470.69) rotate(-30)" font-size="14">Sirtuin 2</text>
<text x="1182.6" y="1502.32" text-anchor="middle" fill="#fff" class="dj" font-size="11.2">-0.37</text>
<text text-anchor="end" stroke="#000" stroke-width="0.2" transform="translate(1133.8 1502.82) rotate(-30)" font-size="14">Interferon Gamma</text>
<text class="dj" y="1534.18" font-size="11.2" fill="#fff"><tspan x="1182.6" text-anchor="middle">-0.72</tspan><tspan x="1198.12" dy="0.3" font-size="10.98"> ★</tspan></text>
<text text-anchor="end" stroke="#000" stroke-width="0.2" transform="translate(1133.8 1534.95) rotate(-30)" font-size="14">FGF 19</text>
<text class="dj" y="1566.04" font-size="11.2" fill="#fff"><tspan x="1182.6" text-anchor="middle">-0.73</tspan><tspan x="1198.12" dy="0.3" font-size="10.98"> ★</tspan></text>
<text text-anchor="end" stroke="#000" stroke-width="0.2" transform="translate(1133.8 1567.07) rotate(-30)" font-size="14">FGF 19</text>
<line x1="1183.8" y1="1578" x2="1183.8" y2="1579.6" stroke="#777" stroke-width="0.8"/>
<text x="1426.8" y="1120" text-anchor="middle" stroke="#000" stroke-width="0.2" font-size="17.6">Post</text>
<rect x="1386" y="1134.5" width="86" height="32.31" fill="#7f0823"/>
<rect x="1386" y="1166.21" width="86" height="32.31" fill="#df765e"/>
<rect x="1386" y="1197.93" width="86" height="32.31" fill="#fae9df"/>
<rect x="1386" y="1229.64" width="86" height="32.31" fill="#f3f5f6"/>
<rect x="1386" y="1261.36" width="86" height="32.31" fill="#e7f0f4"/>
<rect x="1386" y="1293.07" width="86" height="32.31" fill="#d4e6f1"/>
<rect x="1386" y="1324.79" width="86" height="32.31" fill="#c2ddec"/>
<rect x="1386" y="1356.5" width="86" height="32.31" fill="#bbdaea"/>
<rect x="1386" y="1388.21" width="86" height="32.31" fill="#3c8abe"/>
<rect x="1386" y="1419.93" width="86" height="32.31" fill="#144e8a"/>
<rect x="1386" y="1451.64" width="86" height="32.31" fill="#10457e"/>
<rect x="1386" y="1483.36" width="86" height="32.31" fill="#0c3d73"/>
<rect x="1386" y="1515.07" width="86" height="32.31" fill="#073467"/>
<rect x="1386" y="1546.79" width="86" height="31.71" fill="#053061"/>
<text x="1428" y="1153.92" text-anchor="middle" fill="#fff" class="dj" font-size="11.2">0.56</text>
<text text-anchor="end" stroke="#000" stroke-width="0.2" transform="translate(1379.2 1151.86) rotate(-30)" font-size="14">Neurotrophin 4</text>
<text x="1428" y="1185.64" text-anchor="middle" fill="#fff" class="dj" font-size="11.2">0.32</text>
<text text-anchor="end" stroke="#000" stroke-width="0.2" transform="translate(1379.2 1183.8) rotate(-30)" font-size="14">Phosphatase &amp; Tensin H.</text>
<text x="1428" y="1217.35" text-anchor="middle" fill="#111" class="dj" font-size="11.2">0.06</text>
<text text-anchor="end" stroke="#000" stroke-width="0.2" transform="translate(1379.2 1215.75) rotate(-30)" font-size="14">Toll Like Receptor 2</text>
<text x="1428" y="1249.07" text-anchor="middle" fill="#111" class="dj" font-size="11.2">-0.01</text>
<text text-anchor="end" stroke="#000" stroke-width="0.2" transform="translate(1379.2 1250.69) rotate(-30)" font-size="14">GAPDH</text>
<text x="1428" y="1280.78" text-anchor="middle" fill="#111" class="dj" font-size="11.2">-0.05</text>
<text text-anchor="end" stroke="#000" stroke-width="0.2" transform="translate(1379.2 1279.64) rotate(-30)" font-size="14">AN – SN (rest)</text>
<text x="1428" y="1312.49" text-anchor="middle" fill="#111" class="dj" font-size="11.2">-0.11</text>
<text text-anchor="end" stroke="#000" stroke-width="0.2" transform="translate(1379.2 1314.08) rotate(-30)" font-size="14">Sirtuin 3</text>
<text x="1428" y="1344.21" text-anchor="middle" fill="#111" class="dj" font-size="11.2">-0.15</text>
<text text-anchor="end" stroke="#000" stroke-width="0.2" transform="translate(1379.2 1345.03) rotate(-30)" font-size="14">Sirtuin 2</text>
<text x="1428" y="1375.92" text-anchor="middle" fill="#111" class="dj" font-size="11.2">-0.16</text>
<text text-anchor="end" stroke="#000" stroke-width="0.2" transform="translate(1379.2 1375.47) rotate(-30)" font-size="14">VN – DAN (rest)</text>
<text x="1428" y="1407.64" text-anchor="middle" fill="#fff" class="dj" font-size="11.2">-0.38</text>
<text text-anchor="end" stroke="#000" stroke-width="0.2" transform="translate(1379.2 1407.42) rotate(-30)" font-size="14">AN – DMN (meditation)</text>
<text x="1428" y="1439.35" text-anchor="middle" fill="#fff" class="dj" font-size="11.2">-0.53</text>
<text text-anchor="end" stroke="#000" stroke-width="0.2" transform="translate(1379.2 1439.36) rotate(-30)" font-size="14">L AI - L AG (meditation)</text>
<text x="1428" y="1471.07" text-anchor="middle" fill="#fff" class="dj" font-size="11.2">-0.55</text>
<text text-anchor="end" stroke="#000" stroke-width="0.2" transform="translate(1379.2 1471.31) rotate(-30)" font-size="14">C-CM Chem. Ligand 5</text>
<text x="1428" y="1502.78" text-anchor="middle" fill="#fff" class="dj" font-size="11.2">-0.57</text>
<text text-anchor="end" stroke="#000" stroke-width="0.2" transform="translate(1379.2 1504.45) rotate(-30)" font-size="14">FGF 19</text>
<text x="1428" y="1534.49" text-anchor="middle" fill="#fff" class="dj" font-size="11.2">-0.59</text>
<text text-anchor="end" stroke="#000" stroke-width="0.2" transform="translate(1379.2 1536.2) rotate(-30)" font-size="14">FGF 19</text>
<text class="dj" y="1566.21" font-size="11.2" fill="#fff"><tspan x="1428" text-anchor="middle">-0.68</tspan><tspan x="1443.52" dy="0.3" font-size="10.98"> ★</tspan></text>
<text text-anchor="end" stroke="#000" stroke-width="0.2" transform="translate(1379.2 1567.14) rotate(-30)" font-size="14">Interferon Gamma</text>
<line x1="1429" y1="1578.5" x2="1429" y2="1580.1" stroke="#777" stroke-width="0.8"/>
<linearGradient id="h3" x1="0" x2="1" y1="0" y2="0"><stop offset="0%" stop-color="#053061"/><stop offset="2.5%" stop-color="#0c3d73"/><stop offset="5%" stop-color="#124984"/><stop offset="7.5%" stop-color="#1a5899"/><stop offset="10%" stop-color="#2065ab"/><stop offset="12.5%" stop-color="#2a71b2"/><stop offset="15%" stop-color="#327cb7"/><stop offset="17.5%" stop-color="#3a87bd"/><stop offset="20%" stop-color="#4393c3"/><stop offset="22.5%" stop-color="#569fc9"/><stop offset="25%" stop-color="#6bacd1"/><stop offset="27.5%" stop-color="#7eb8d7"/><stop offset="30%" stop-color="#90c4dd"/><stop offset="32.5%" stop-color="#a2cde3"/><stop offset="35%" stop-color="#b1d5e7"/><stop offset="37.5%" stop-color="#c2ddec"/><stop offset="40%" stop-color="#d1e5f0"/><stop offset="42.5%" stop-color="#dae9f2"/><stop offset="45%" stop-color="#e4eef4"/><stop offset="47.5%" stop-color="#edf2f5"/><stop offset="50%" stop-color="#f7f6f6"/><stop offset="52.5%" stop-color="#f9f0eb"/><stop offset="55%" stop-color="#fae9df"/><stop offset="57.5%" stop-color="#fce2d2"/><stop offset="60%" stop-color="#fddbc7"/><stop offset="62.5%" stop-color="#fbccb4"/><stop offset="65%" stop-color="#f8bfa4"/><stop offset="67.5%" stop-color="#f6b394"/><stop offset="70%" stop-color="#f3a481"/><stop offset="72.5%" stop-color="#ec9374"/><stop offset="75%" stop-color="#e48066"/><stop offset="77.5%" stop-color="#dd7059"/><stop offset="80%" stop-color="#d6604d"/><stop offset="82.5%" stop-color="#cc4c44"/><stop offset="85%" stop-color="#c43b3c"/><stop offset="87.5%" stop-color="#ba2832"/><stop offset="90%" stop-color="#b1182b"/><stop offset="92.5%" stop-color="#9f1228"/><stop offset="95%" stop-color="#8a0b25"/><stop offset="97.5%" stop-color="#790622"/><stop offset="100%" stop-color="#67001f"/></linearGradient>
<rect x="1142" y="1650.4" width="315.5" height="15.6" fill="url(#h3)"/>
<line x1="1142" y1="1666" x2="1142" y2="1668.4" stroke="#999" stroke-width="0.8"/>
<text x="1140.7" y="1684" text-anchor="middle" stroke="#000" stroke-width="0.2" font-size="14">-0.6</text>
<line x1="1194.5" y1="1666" x2="1194.5" y2="1668.4" stroke="#999" stroke-width="0.8"/>
<text x="1193.57" y="1684" text-anchor="middle" stroke="#000" stroke-width="0.2" font-size="14">-0.4</text>
<line x1="1247" y1="1666" x2="1247" y2="1668.4" stroke="#999" stroke-width="0.8"/>
<text x="1246.43" y="1684" text-anchor="middle" stroke="#000" stroke-width="0.2" font-size="14">-0.2</text>
<line x1="1299.5" y1="1666" x2="1299.5" y2="1668.4" stroke="#999" stroke-width="0.8"/>
<text x="1299.3" y="1684" text-anchor="middle" stroke="#000" stroke-width="0.2" font-size="14">0.0</text>
<line x1="1352" y1="1666" x2="1352" y2="1668.4" stroke="#999" stroke-width="0.8"/>
<text x="1352.17" y="1684" text-anchor="middle" stroke="#000" stroke-width="0.2" font-size="14">0.2</text>
<line x1="1404.5" y1="1666" x2="1404.5" y2="1668.4" stroke="#999" stroke-width="0.8"/>
<text x="1405.03" y="1684" text-anchor="middle" stroke="#000" stroke-width="0.2" font-size="14">0.4</text>
<line x1="1457" y1="1666" x2="1457" y2="1668.4" stroke="#999" stroke-width="0.8"/>
<text x="1457.9" y="1684" text-anchor="middle" stroke="#000" stroke-width="0.2" font-size="14">0.6</text>
<text x="1299.3" y="1705.5" text-anchor="middle" stroke="#000" stroke-width="0.2" font-size="14">Spearman R</text>
<text x="1810.2" y="1072.9" text-anchor="middle" stroke="#000" stroke-width="0.2" font-size="19">Random Forest Experience Features</text>
<text x="1681.3" y="1120" text-anchor="middle" stroke="#000" stroke-width="0.2" font-size="17.6">Pre</text>
<rect x="1649.8" y="1133.8" width="85.7" height="32.34" fill="#be3036"/>
<rect x="1649.8" y="1165.54" width="85.7" height="32.34" fill="#c94741"/>
<rect x="1649.8" y="1197.27" width="85.7" height="32.34" fill="#cc4c44"/>
<rect x="1649.8" y="1229.01" width="85.7" height="32.34" fill="#d86551"/>
<rect x="1649.8" y="1260.74" width="85.7" height="32.34" fill="#fddbc7"/>
<rect x="1649.8" y="1292.48" width="85.7" height="32.34" fill="#f9ebe3"/>
<rect x="1649.8" y="1324.21" width="85.7" height="32.34" fill="#f9ebe3"/>
<rect x="1649.8" y="1355.95" width="85.7" height="32.34" fill="#f3f5f6"/>
<rect x="1649.8" y="1387.69" width="85.7" height="32.34" fill="#e7f0f4"/>
<rect x="1649.8" y="1419.42" width="85.7" height="32.34" fill="#9dcbe1"/>
<rect x="1649.8" y="1451.16" width="85.7" height="32.34" fill="#5ca3cb"/>
<rect x="1649.8" y="1482.89" width="85.7" height="32.34" fill="#4f9bc7"/>
<rect x="1649.8" y="1514.63" width="85.7" height="32.34" fill="#408fc1"/>
<rect x="1649.8" y="1546.36" width="85.7" height="31.74" fill="#053061"/>
<text x="1694.85" y="1153.67" text-anchor="middle" fill="#fff" class="dj" font-size="11.3">0.44</text>
<text text-anchor="end" stroke="#000" stroke-width="0.2" transform="translate(1643.4 1152.67) rotate(-30)" font-size="13.5">Lactate Dehydrogenase A</text>
<text x="1694.85" y="1185.41" text-anchor="middle" fill="#fff" class="dj" font-size="11.3">0.40</text>
<text text-anchor="end" stroke="#000" stroke-width="0.2" transform="translate(1643.4 1184.42) rotate(-30)" font-size="13.5">VN – ECN (meditation)</text>
<text x="1694.85" y="1217.14" text-anchor="middle" fill="#fff" class="dj" font-size="11.3">0.39</text>
<text text-anchor="end" stroke="#000" stroke-width="0.2" transform="translate(1643.4 1216.17) rotate(-30)" font-size="13.5">ATP Synthase ATP5PB</text>
<text x="1694.85" y="1248.88" text-anchor="middle" fill="#fff" class="dj" font-size="11.3">0.35</text>
<text text-anchor="end" stroke="#000" stroke-width="0.2" transform="translate(1643.4 1247.92) rotate(-30)" font-size="13.5">AN – SN (rest)</text>
<text x="1694.85" y="1280.61" text-anchor="middle" fill="#111" class="dj" font-size="11.3">0.12</text>
<text text-anchor="end" stroke="#000" stroke-width="0.2" transform="translate(1643.4 1279.67) rotate(-30)" font-size="13.5">Myocyte E. Factor 2C</text>
<text x="1694.85" y="1312.35" text-anchor="middle" fill="#111" class="dj" font-size="11.3">0.05</text>
<text text-anchor="end" stroke="#000" stroke-width="0.2" transform="translate(1643.4 1309.92) rotate(-30)" font-size="13.5">NRTK2</text>
<text x="1694.85" y="1344.09" text-anchor="middle" fill="#111" class="dj" font-size="11.3">0.05</text>
<text text-anchor="end" stroke="#000" stroke-width="0.2" transform="translate(1643.4 1341.67) rotate(-30)" font-size="13.5">SMN – SN (rest)</text>
<text x="1694.85" y="1375.82" text-anchor="middle" fill="#111" class="dj" font-size="11.3">-0.01</text>
<text text-anchor="end" stroke="#000" stroke-width="0.2" transform="translate(1643.4 1373.43) rotate(-30)" font-size="13.5">L AI – L AG (meditation)</text>
<text x="1694.85" y="1407.56" text-anchor="middle" fill="#111" class="dj" font-size="11.3">-0.05</text>
<text text-anchor="end" stroke="#000" stroke-width="0.2" transform="translate(1643.4 1405.18) rotate(-30)" font-size="13.5">Myocyte E. Factor 2D</text>
<text x="1694.85" y="1439.29" text-anchor="middle" fill="#111" class="dj" font-size="11.3">-0.22</text>
<text text-anchor="end" stroke="#000" stroke-width="0.2" transform="translate(1643.4 1437.43) rotate(-30)" font-size="13.5">Prodynorphin</text>
<text x="1694.85" y="1471.03" text-anchor="middle" fill="#fff" class="dj" font-size="11.3">-0.32</text>
<text text-anchor="end" stroke="#000" stroke-width="0.2" transform="translate(1643.4 1470.18) rotate(-30)" font-size="13.5">SN – DAN (meditation)</text>
<text x="1694.85" y="1502.76" text-anchor="middle" fill="#fff" class="dj" font-size="11.3">-0.34</text>
<text text-anchor="end" stroke="#000" stroke-width="0.2" transform="translate(1645.7 1502.93) rotate(-30)" font-size="13.5">Sirtuin 2</text>
<text x="1694.85" y="1534.5" text-anchor="middle" fill="#fff" class="dj" font-size="11.3">-0.37</text>
<text text-anchor="end" stroke="#000" stroke-width="0.2" transform="translate(1643.4 1533.68) rotate(-30)" font-size="13.5">Interferon Gamma</text>
<text x="1694.85" y="1566.24" text-anchor="middle" fill="#fff" class="dj" font-size="11.3">-0.62</text>
<text text-anchor="end" stroke="#000" stroke-width="0.2" transform="translate(1643.4 1565.43) rotate(-30)" font-size="13.5">DAN – DMN (meditation)</text>
<line x1="1692.65" y1="1578.1" x2="1692.65" y2="1579.7" stroke="#777" stroke-width="0.8"/>
<text x="1933" y="1120" text-anchor="middle" stroke="#000" stroke-width="0.2" font-size="17.6">Post</text>
<rect x="1890.5" y="1134.5" width="86" height="32.29" fill="#730421"/>
<rect x="1890.5" y="1166.19" width="86" height="32.29" fill="#dd7059"/>
<rect x="1890.5" y="1197.87" width="86" height="32.29" fill="#e8896c"/>
<rect x="1890.5" y="1229.56" width="86" height="32.29" fill="#ea8e70"/>
<rect x="1890.5" y="1261.24" width="86" height="32.29" fill="#f6af8e"/>
<rect x="1890.5" y="1292.93" width="86" height="32.29" fill="#edf2f5"/>
<rect x="1890.5" y="1324.61" width="86" height="32.29" fill="#e7f0f4"/>
<rect x="1890.5" y="1356.3" width="86" height="32.29" fill="#e4eef4"/>
<rect x="1890.5" y="1387.99" width="86" height="32.29" fill="#c2ddec"/>
<rect x="1890.5" y="1419.67" width="86" height="32.29" fill="#4997c5"/>
<rect x="1890.5" y="1451.36" width="86" height="32.29" fill="#3a87bd"/>
<rect x="1890.5" y="1483.04" width="86" height="32.29" fill="#144e8a"/>
<rect x="1890.5" y="1514.73" width="86" height="32.29" fill="#053061"/>
<rect x="1890.5" y="1546.41" width="86" height="31.69" fill="#053061"/>
<text x="1935.6" y="1154.15" text-anchor="middle" fill="#fff" class="dj" font-size="11.3">0.58</text>
<text text-anchor="end" stroke="#000" stroke-width="0.2" transform="translate(1883.5 1151.84) rotate(-30)" font-size="13.5">Myocyte E. Factor 2C</text>
<text x="1935.6" y="1185.83" text-anchor="middle" fill="#fff" class="dj" font-size="11.3">0.33</text>
<text text-anchor="end" stroke="#000" stroke-width="0.2" transform="translate(1883.5 1183.68) rotate(-30)" font-size="13.5">ATP Synthase ATP5PB</text>
<text x="1935.6" y="1217.52" text-anchor="middle" fill="#fff" class="dj" font-size="11.3">0.29</text>
<text text-anchor="end" stroke="#000" stroke-width="0.2" transform="translate(1883.5 1215.52) rotate(-30)" font-size="13.5">VN – ECN (meditation)</text>
<text x="1935.6" y="1249.2" text-anchor="middle" fill="#fff" class="dj" font-size="11.3">0.28</text>
<text text-anchor="end" stroke="#000" stroke-width="0.2" transform="translate(1883.5 1247.36) rotate(-30)" font-size="13.5">Lactate Dehydrogenase A</text>
<text x="1935.6" y="1280.89" text-anchor="middle" fill="#111" class="dj" font-size="11.3">0.22</text>
<text text-anchor="end" stroke="#000" stroke-width="0.2" transform="translate(1883.5 1279.2) rotate(-30)" font-size="13.5">Myocyte E. Factor 2D</text>
<text x="1935.6" y="1312.58" text-anchor="middle" fill="#111" class="dj" font-size="11.3">-0.03</text>
<text text-anchor="end" stroke="#000" stroke-width="0.2" transform="translate(1885.5 1312.04) rotate(-30)" font-size="13.5">NRTK2</text>
<text x="1935.6" y="1344.26" text-anchor="middle" fill="#111" class="dj" font-size="11.3">-0.05</text>
<text text-anchor="end" stroke="#000" stroke-width="0.2" transform="translate(1883.5 1342.88) rotate(-30)" font-size="13.5">AN – SN (rest)</text>
<text x="1935.6" y="1375.95" text-anchor="middle" fill="#111" class="dj" font-size="11.3">-0.06</text>
<text text-anchor="end" stroke="#000" stroke-width="0.2" transform="translate(1883.5 1374.72) rotate(-30)" font-size="13.5">SN – DAN (meditation)</text>
<text x="1935.6" y="1407.63" text-anchor="middle" fill="#111" class="dj" font-size="11.3">-0.15</text>
<text text-anchor="end" stroke="#000" stroke-width="0.2" transform="translate(1885.5 1408.06) rotate(-30)" font-size="13.5">Sirtuin 2</text>
<text x="1935.6" y="1439.32" text-anchor="middle" fill="#fff" class="dj" font-size="11.3">-0.35</text>
<text text-anchor="end" stroke="#000" stroke-width="0.2" transform="translate(1883.5 1438.4) rotate(-30)" font-size="13.5">SMN – SN (rest)</text>
<text x="1935.6" y="1471" text-anchor="middle" fill="#fff" class="dj" font-size="11.3">-0.39</text>
<text text-anchor="end" stroke="#000" stroke-width="0.2" transform="translate(1883.5 1470.24) rotate(-30)" font-size="13.5">DAN – DMN (meditation)</text>
<text x="1935.6" y="1502.69" text-anchor="middle" fill="#fff" class="dj" font-size="11.3">-0.53</text>
<text text-anchor="end" stroke="#000" stroke-width="0.2" transform="translate(1883.5 1502.08) rotate(-30)" font-size="13.5">L AI – L AG (meditation)</text>
<text class="dj" y="1534.38" font-size="11.3" fill="#fff"><tspan x="1935.6" text-anchor="middle">-0.64</tspan><tspan x="1951.26" dy="0.3" font-size="11.07"> ★</tspan></text>
<text text-anchor="end" stroke="#000" stroke-width="0.2" transform="translate(1883.5 1533.92) rotate(-30)" font-size="13.5">Prodynorphin</text>
<text class="dj" y="1566.06" font-size="11.3" fill="#fff"><tspan x="1935.6" text-anchor="middle">-0.68</tspan><tspan x="1951.26" dy="0.3" font-size="11.07"> ★</tspan></text>
<text text-anchor="end" stroke="#000" stroke-width="0.2" transform="translate(1883.5 1565.76) rotate(-30)" font-size="13.5">Interferon Gamma</text>
<line x1="1933.5" y1="1578.1" x2="1933.5" y2="1579.7" stroke="#777" stroke-width="0.8"/>
<linearGradient id="h4" x1="0" x2="1" y1="0" y2="0"><stop offset="0%" stop-color="#053061"/><stop offset="2.5%" stop-color="#0c3d73"/><stop offset="5%" stop-color="#124984"/><stop offset="7.5%" stop-color="#1a5899"/><stop offset="10%" stop-color="#2065ab"/><stop offset="12.5%" stop-color="#2a71b2"/><stop offset="15%" stop-color="#327cb7"/><stop offset="17.5%" stop-color="#3a87bd"/><stop offset="20%" stop-color="#4393c3"/><stop offset="22.5%" stop-color="#569fc9"/><stop offset="25%" stop-color="#6bacd1"/><stop offset="27.5%" stop-color="#7eb8d7"/><stop offset="30%" stop-color="#90c4dd"/><stop offset="32.5%" stop-color="#a2cde3"/><stop offset="35%" stop-color="#b1d5e7"/><stop offset="37.5%" stop-color="#c2ddec"/><stop offset="40%" stop-color="#d1e5f0"/><stop offset="42.5%" stop-color="#dae9f2"/><stop offset="45%" stop-color="#e4eef4"/><stop offset="47.5%" stop-color="#edf2f5"/><stop offset="50%" stop-color="#f7f6f6"/><stop offset="52.5%" stop-color="#f9f0eb"/><stop offset="55%" stop-color="#fae9df"/><stop offset="57.5%" stop-color="#fce2d2"/><stop offset="60%" stop-color="#fddbc7"/><stop offset="62.5%" stop-color="#fbccb4"/><stop offset="65%" stop-color="#f8bfa4"/><stop offset="67.5%" stop-color="#f6b394"/><stop offset="70%" stop-color="#f3a481"/><stop offset="72.5%" stop-color="#ec9374"/><stop offset="75%" stop-color="#e48066"/><stop offset="77.5%" stop-color="#dd7059"/><stop offset="80%" stop-color="#d6604d"/><stop offset="82.5%" stop-color="#cc4c44"/><stop offset="85%" stop-color="#c43b3c"/><stop offset="87.5%" stop-color="#ba2832"/><stop offset="90%" stop-color="#b1182b"/><stop offset="92.5%" stop-color="#9f1228"/><stop offset="95%" stop-color="#8a0b25"/><stop offset="97.5%" stop-color="#790622"/><stop offset="100%" stop-color="#67001f"/></linearGradient>
<rect x="1652.3" y="1650.4" width="316.2" height="15.6" fill="url(#h4)"/>
<line x1="1652.3" y1="1666" x2="1652.3" y2="1668.4" stroke="#999" stroke-width="0.8"/>
<text x="1651" y="1684" text-anchor="middle" stroke="#000" stroke-width="0.2" font-size="14">-0.6</text>
<line x1="1704.92" y1="1666" x2="1704.92" y2="1668.4" stroke="#999" stroke-width="0.8"/>
<text x="1703.98" y="1684" text-anchor="middle" stroke="#000" stroke-width="0.2" font-size="14">-0.4</text>
<line x1="1757.53" y1="1666" x2="1757.53" y2="1668.4" stroke="#999" stroke-width="0.8"/>
<text x="1756.97" y="1684" text-anchor="middle" stroke="#000" stroke-width="0.2" font-size="14">-0.2</text>
<line x1="1810.15" y1="1666" x2="1810.15" y2="1668.4" stroke="#999" stroke-width="0.8"/>
<text x="1809.95" y="1684" text-anchor="middle" stroke="#000" stroke-width="0.2" font-size="14">0.0</text>
<line x1="1862.77" y1="1666" x2="1862.77" y2="1668.4" stroke="#999" stroke-width="0.8"/>
<text x="1862.93" y="1684" text-anchor="middle" stroke="#000" stroke-width="0.2" font-size="14">0.2</text>
<line x1="1915.38" y1="1666" x2="1915.38" y2="1668.4" stroke="#999" stroke-width="0.8"/>
<text x="1915.92" y="1684" text-anchor="middle" stroke="#000" stroke-width="0.2" font-size="14">0.4</text>
<line x1="1968" y1="1666" x2="1968" y2="1668.4" stroke="#999" stroke-width="0.8"/>
<text x="1968.9" y="1684" text-anchor="middle" stroke="#000" stroke-width="0.2" font-size="14">0.6</text>
<text x="1809.3" y="1705.5" text-anchor="middle" stroke="#000" stroke-width="0.2" font-size="14">Spearman R</text>
<circle cx="650.2" cy="69.6" r="1.1" fill="#3a3ab8"/>
</svg>
</body>
</html>
